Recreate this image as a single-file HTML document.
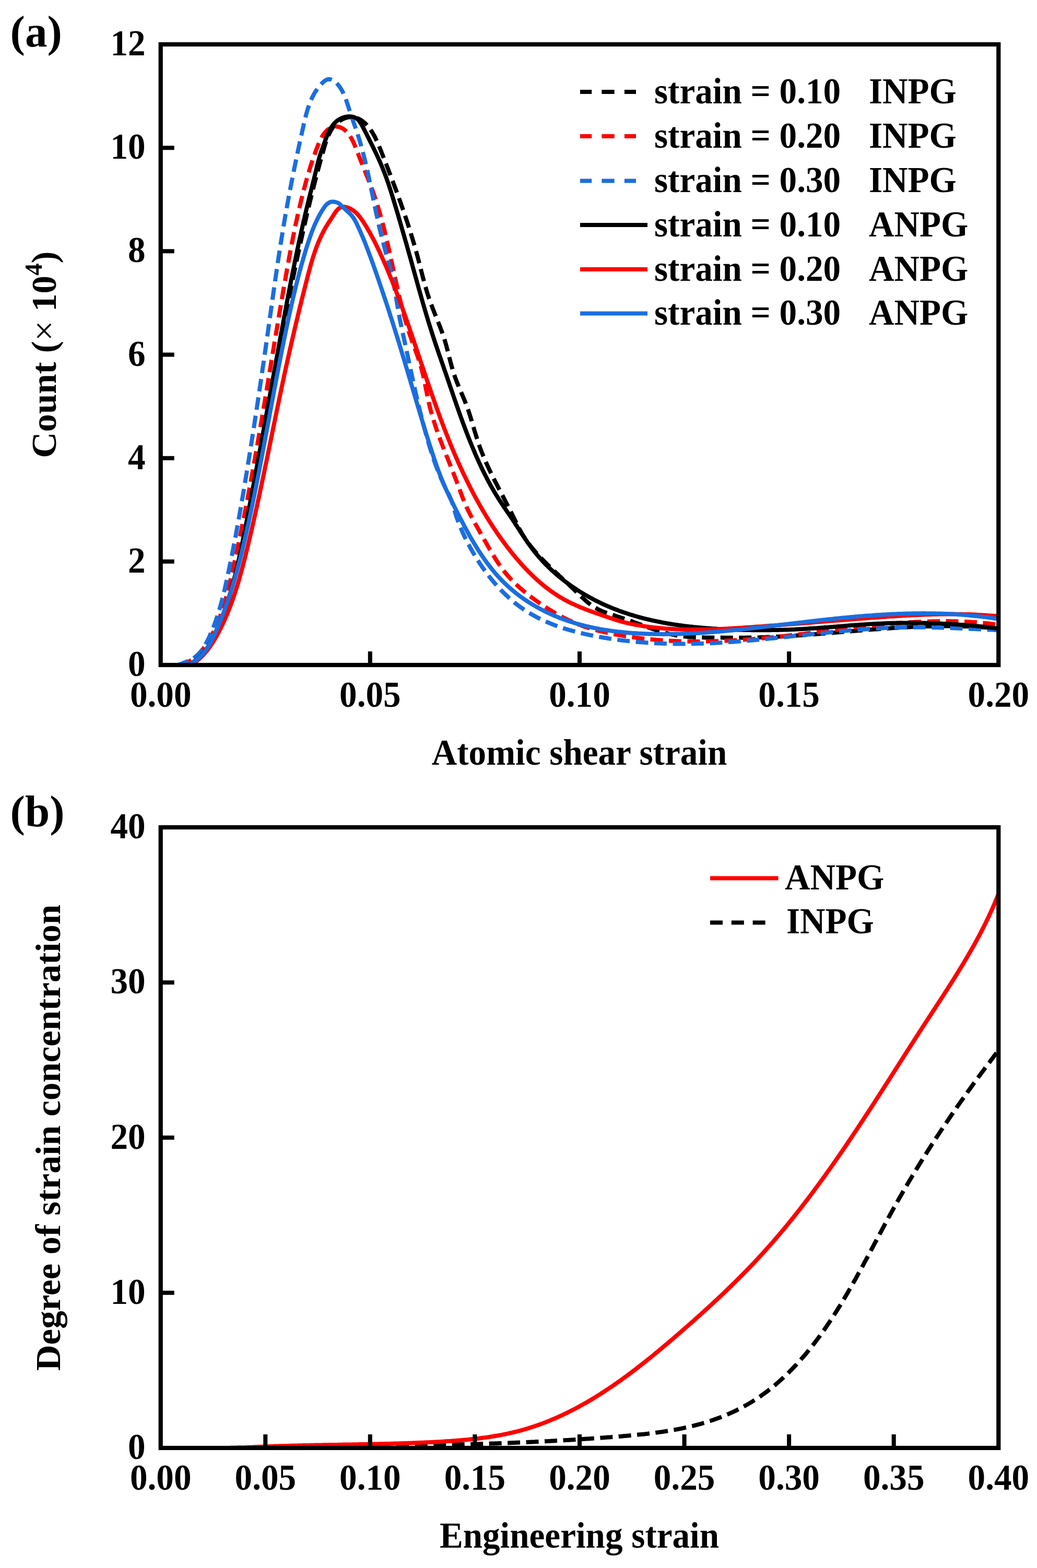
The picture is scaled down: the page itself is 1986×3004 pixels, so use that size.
<!DOCTYPE html>
<html><head><meta charset="utf-8"><title>Figure</title>
<style>html,body{margin:0;padding:0;background:#fff;} svg{display:block;}</style>
</head><body>
<svg width="1986" height="3004" viewBox="0 0 1986 3004"
 font-family="'Liberation Serif', 'Times New Roman', serif" font-weight="bold" fill="#000">
<rect width="1986" height="3004" fill="#fff"/>
<text x="19.6" y="88.6" font-size="85">(a)</text>
<text x="19.6" y="1583" font-size="85">(b)</text>
<clipPath id="c0"><rect x="307.7" y="85" width="1604.6" height="1189"/></clipPath>
<g clip-path="url(#c0)" fill="none" stroke-width="8" stroke-linejoin="round">
<path d="M356.0,1275.2 L359.0,1274.0 L362.0,1272.8 L364.8,1271.4 L367.5,1269.9 L370.2,1268.4 L372.7,1266.8 L375.2,1265.0 L377.5,1263.2 L379.8,1261.4 L382.0,1259.4 L384.2,1257.4 L386.2,1255.3 L388.2,1253.1 L390.1,1250.9 L392.0,1248.6 L393.8,1246.2 L395.5,1243.9 L397.2,1241.4 L398.8,1238.9 L400.4,1236.4 L401.9,1233.8 L403.4,1231.2 L404.9,1228.6 L406.3,1225.9 L407.7,1223.2 L409.0,1220.5 L410.3,1217.8 L411.6,1215.1 L412.9,1212.3 L414.1,1209.6 L415.4,1206.8 L416.6,1204.0 L417.8,1201.3 L418.9,1198.5 L420.1,1195.7 L421.2,1192.9 L422.4,1190.1 L423.5,1187.3 L424.6,1184.5 L425.7,1181.7 L426.7,1178.9 L427.8,1176.1 L428.8,1173.3 L429.8,1170.5 L430.8,1167.7 L431.8,1164.8 L432.8,1162.0 L433.8,1159.2 L434.7,1156.3 L435.7,1153.5 L436.6,1150.6 L437.5,1147.8 L438.4,1144.9 L439.3,1142.1 L440.2,1139.2 L441.0,1136.4 L441.9,1133.5 L442.7,1130.6 L443.6,1127.8 L444.4,1124.9 L445.2,1122.0 L446.0,1119.2 L446.8,1116.3 L447.6,1113.4 L448.3,1110.5 L449.1,1107.6 L449.8,1104.7 L450.6,1101.8 L451.3,1098.9 L452.0,1096.0 L452.8,1093.1 L453.5,1090.2 L454.2,1087.3 L454.9,1084.4 L455.5,1081.5 L456.2,1078.6 L456.9,1075.7 L457.6,1072.8 L458.2,1069.9 L458.9,1066.9 L459.5,1064.0 L460.2,1061.1 L460.8,1058.2 L461.4,1055.2 L462.1,1052.3 L462.7,1049.4 L463.3,1046.5 L463.9,1043.5 L464.5,1040.6 L465.1,1037.7 L465.7,1034.7 L466.3,1031.8 L466.9,1028.9 L467.5,1025.9 L468.1,1023.0 L468.7,1020.0 L469.3,1017.1 L469.8,1014.2 L470.4,1011.2 L471.0,1008.3 L471.6,1005.3 L472.2,1002.4 L472.7,999.5 L473.3,996.5 L473.9,993.6 L474.5,990.6 L475.0,987.7 L475.6,984.8 L476.2,981.8 L476.7,978.9 L477.3,975.9 L477.9,973.0 L478.4,970.0 L479.0,967.1 L479.6,964.1 L480.1,961.2 L480.7,958.2 L481.3,955.3 L481.8,952.3 L482.4,949.4 L482.9,946.4 L483.5,943.5 L484.1,940.5 L484.6,937.6 L485.2,934.7 L485.7,931.7 L486.3,928.8 L486.8,925.8 L487.4,922.9 L488.0,919.9 L488.5,916.9 L489.1,914.0 L489.6,911.0 L490.2,908.1 L490.7,905.1 L491.3,902.2 L491.8,899.2 L492.4,896.3 L492.9,893.3 L493.5,890.4 L494.0,887.4 L494.6,884.5 L495.1,881.5 L495.7,878.6 L496.2,875.6 L496.8,872.7 L497.3,869.7 L497.8,866.8 L498.4,863.8 L498.9,860.8 L499.5,857.9 L500.0,854.9 L500.6,852.0 L501.1,849.0 L501.7,846.1 L502.2,843.1 L502.7,840.2 L503.3,837.2 L503.8,834.3 L504.4,831.3 L504.9,828.3 L505.5,825.4 L506.0,822.4 L506.5,819.5 L507.1,816.5 L507.6,813.6 L508.2,810.6 L508.7,807.7 L509.3,804.7 L509.8,801.7 L510.3,798.8 L510.9,795.8 L511.4,792.9 L512.0,789.9 L512.5,787.0 L513.0,784.0 L513.6,781.1 L514.1,778.1 L514.7,775.2 L515.2,772.2 L515.8,769.2 L516.3,766.3 L516.8,763.3 L517.4,760.4 L517.9,757.4 L518.5,754.5 L519.0,751.5 L519.6,748.6 L520.1,745.6 L520.7,742.7 L521.2,739.7 L521.7,736.8 L522.3,733.8 L522.8,730.8 L523.4,727.9 L523.9,724.9 L524.5,722.0 L525.0,719.0 L525.6,716.1 L526.1,713.1 L526.7,710.2 L527.2,707.2 L527.8,704.3 L528.3,701.3 L528.9,698.4 L529.4,695.4 L530.0,692.5 L530.5,689.5 L531.1,686.6 L531.6,683.6 L532.2,680.7 L532.7,677.7 L533.3,674.8 L533.8,671.8 L534.4,668.9 L535.0,665.9 L535.5,663.0 L536.1,660.0 L536.6,657.1 L537.2,654.2 L537.8,651.2 L538.3,648.3 L538.9,645.3 L539.4,642.4 L540.0,639.4 L540.6,636.5 L541.1,633.5 L541.7,630.6 L542.3,627.7 L542.8,624.7 L543.4,621.8 L544.0,618.8 L544.5,615.9 L545.1,612.9 L545.7,610.0 L546.3,607.1 L546.8,604.1 L547.4,601.2 L548.0,598.3 L548.6,595.3 L549.1,592.4 L549.7,589.4 L550.3,586.5 L550.9,583.6 L551.5,580.6 L552.1,577.7 L552.6,574.8 L553.2,571.8 L553.8,568.9 L554.4,566.0 L555.0,563.0 L555.6,560.1 L556.2,557.2 L556.8,554.2 L557.4,551.3 L558.0,548.4 L558.6,545.4 L559.1,542.5 L559.7,539.6 L560.3,536.7 L561.0,533.7 L561.6,530.8 L562.2,527.9 L562.8,525.0 L563.4,522.0 L564.0,519.1 L564.6,516.2 L565.2,513.3 L565.8,510.3 L566.4,507.4 L567.1,504.5 L567.7,501.6 L568.3,498.7 L568.9,495.7 L569.5,492.8 L570.2,489.9 L570.8,487.0 L571.4,484.1 L572.0,481.2 L572.7,478.3 L573.3,475.3 L573.9,472.4 L574.6,469.5 L575.2,466.6 L575.8,463.7 L576.5,460.8 L577.1,457.9 L577.8,455.0 L578.4,452.1 L579.1,449.2 L579.7,446.2 L580.4,443.3 L581.0,440.4 L581.7,437.5 L582.3,434.6 L583.0,431.7 L583.6,428.8 L584.3,425.9 L585.0,423.0 L585.6,420.1 L586.3,417.2 L587.0,414.3 L587.7,411.4 L588.3,408.5 L589.0,405.6 L589.7,402.7 L590.4,399.8 L591.1,396.9 L591.8,394.0 L592.5,391.1 L593.1,388.2 L593.8,385.3 L594.6,382.4 L595.3,379.5 L596.0,376.6 L596.7,373.7 L597.4,370.8 L598.1,367.9 L598.8,365.0 L599.6,362.1 L600.3,359.2 L601.0,356.2 L601.8,353.3 L602.5,350.4 L603.3,347.5 L604.0,344.6 L604.8,341.7 L605.5,338.7 L606.3,335.8 L607.1,332.9 L607.9,330.0 L608.6,327.0 L609.4,324.1 L610.2,321.2 L611.0,318.2 L611.8,315.3 L612.6,312.3 L613.4,309.4 L614.2,306.5 L615.0,303.5 L615.9,300.6 L616.7,297.6 L617.5,294.6 L618.4,291.7 L619.2,288.7 L620.1,285.7 L620.9,282.8 L621.8,279.8 L622.7,276.9 L623.6,273.9 L624.6,271.0 L625.6,268.1 L626.6,265.3 L627.7,262.5 L628.9,259.7 L630.1,257.0 L631.4,254.4 L632.8,251.8 L634.2,249.2 L635.8,246.8 L637.4,244.4 L639.2,242.1 L641.0,240.0 L643.0,237.9 L645.0,235.9 L647.3,234.0 L649.6,232.2 L652.0,230.6 L654.6,229.1 L657.2,227.8 L659.9,226.7 L662.7,225.8 L665.5,225.1 L668.4,224.6 L671.2,224.4 L674.1,224.5 L677.0,224.8 L679.8,225.3 L682.6,226.0 L685.3,227.0 L688.0,228.2 L690.6,229.6 L693.1,231.2 L695.5,232.9 L697.8,234.9 L700.0,236.9 L702.1,239.1 L704.1,241.4 L706.1,243.7 L707.9,246.2 L709.7,248.6 L711.4,251.1 L713.0,253.7 L714.6,256.3 L716.1,258.9 L717.5,261.5 L718.9,264.2 L720.2,266.9 L721.5,269.7 L722.8,272.4 L724.0,275.2 L725.2,278.0 L726.3,280.8 L727.5,283.6 L728.6,286.4 L729.7,289.2 L730.8,292.1 L731.9,294.9 L733.0,297.7 L734.1,300.5 L735.2,303.3 L736.3,306.2 L737.4,309.0 L738.5,311.8 L739.6,314.6 L740.7,317.4 L741.8,320.2 L742.9,323.0 L743.9,325.8 L745.0,328.6 L746.1,331.4 L747.2,334.2 L748.2,337.0 L749.3,339.8 L750.4,342.7 L751.4,345.5 L752.5,348.3 L753.5,351.1 L754.6,353.9 L755.6,356.7 L756.7,359.5 L757.7,362.3 L758.8,365.1 L759.8,367.9 L760.8,370.7 L761.8,373.5 L762.9,376.3 L763.9,379.1 L764.9,381.9 L765.9,384.7 L766.9,387.5 L767.9,390.3 L768.9,393.2 L769.9,396.0 L770.9,398.8 L771.8,401.6 L772.8,404.4 L773.8,407.2 L774.7,410.1 L775.7,412.9 L776.6,415.7 L777.6,418.5 L778.5,421.4 L779.5,424.2 L780.4,427.0 L781.3,429.9 L782.3,432.7 L783.2,435.5 L784.1,438.4 L785.0,441.2 L785.9,444.1 L786.8,446.9 L787.6,449.8 L788.5,452.6 L789.4,455.5 L790.3,458.3 L791.1,461.2 L792.0,464.1 L792.8,466.9 L793.6,469.8 L794.5,472.7 L795.3,475.6 L796.1,478.5 L796.9,481.3 L797.7,484.2 L798.5,487.1 L799.3,490.0 L800.1,492.9 L800.8,495.8 L801.6,498.8 L802.4,501.7 L803.1,504.6 L803.9,507.5 L804.6,510.4 L805.4,513.4 L806.1,516.3 L806.8,519.2 L807.6,522.2 L808.3,525.1 L809.1,528.0 L809.8,530.9 L810.6,533.9 L811.4,536.8 L812.1,539.7 L812.9,542.6 L813.7,545.5 L814.5,548.4 L815.4,551.3 L816.2,554.2 L817.1,557.1 L817.9,560.0 L818.8,562.9 L819.7,565.7 L820.7,568.6 L821.6,571.4 L822.6,574.3 L823.6,577.1 L824.6,579.9 L825.6,582.7 L826.7,585.5 L827.7,588.3 L828.8,591.1 L829.9,593.9 L831.0,596.7 L832.1,599.5 L833.2,602.3 L834.4,605.1 L835.5,607.8 L836.6,610.6 L837.7,613.4 L838.8,616.2 L839.9,618.9 L841.0,621.7 L842.1,624.5 L843.2,627.3 L844.2,630.1 L845.3,632.9 L846.3,635.7 L847.3,638.5 L848.3,641.3 L849.2,644.2 L850.2,647.0 L851.1,649.9 L852.0,652.7 L852.8,655.6 L853.7,658.5 L854.5,661.3 L855.3,664.2 L856.0,667.1 L856.8,670.0 L857.5,672.9 L858.3,675.9 L859.0,678.8 L859.8,681.7 L860.5,684.6 L861.2,687.5 L862.0,690.4 L862.7,693.3 L863.5,696.2 L864.3,699.1 L865.1,702.0 L865.9,704.9 L866.7,707.8 L867.6,710.7 L868.5,713.5 L869.4,716.4 L870.3,719.2 L871.3,722.0 L872.3,724.8 L873.4,727.7 L874.4,730.4 L875.5,733.2 L876.7,736.0 L877.8,738.8 L878.9,741.6 L880.1,744.3 L881.3,747.1 L882.4,749.8 L883.6,752.6 L884.8,755.4 L886.0,758.1 L887.1,760.9 L888.3,763.6 L889.4,766.4 L890.6,769.2 L891.7,772.0 L892.7,774.8 L893.8,777.6 L894.8,780.4 L895.8,783.2 L896.8,786.0 L897.8,788.9 L898.7,791.7 L899.6,794.6 L900.5,797.4 L901.4,800.3 L902.3,803.2 L903.2,806.0 L904.0,808.9 L904.9,811.8 L905.7,814.7 L906.6,817.5 L907.4,820.4 L908.3,823.3 L909.1,826.2 L910.0,829.0 L910.9,831.9 L911.7,834.8 L912.6,837.6 L913.5,840.5 L914.4,843.3 L915.4,846.2 L916.3,849.0 L917.3,851.8 L918.3,854.7 L919.3,857.5 L920.3,860.3 L921.4,863.1 L922.4,865.9 L923.5,868.6 L924.7,871.4 L925.8,874.2 L926.9,876.9 L928.1,879.7 L929.3,882.4 L930.5,885.2 L931.7,887.9 L933.0,890.6 L934.2,893.4 L935.5,896.1 L936.7,898.8 L938.0,901.5 L939.3,904.2 L940.6,906.9 L941.9,909.6 L943.3,912.3 L944.6,915.0 L945.9,917.7 L947.3,920.4 L948.6,923.0 L950.0,925.7 L951.4,928.4 L952.8,931.1 L954.1,933.7 L955.5,936.4 L956.9,939.1 L958.3,941.7 L959.7,944.4 L961.1,947.1 L962.5,949.7 L963.9,952.4 L965.3,955.1 L966.7,957.8 L968.0,960.4 L969.4,963.1 L970.8,965.8 L972.2,968.4 L973.6,971.1 L974.9,973.8 L976.3,976.5 L977.7,979.1 L979.0,981.8 L980.4,984.5 L981.7,987.2 L983.0,989.9 L984.3,992.6 L985.7,995.3 L987.0,998.0 L988.3,1000.7 L989.6,1003.4 L990.9,1006.0 L992.3,1008.7 L993.6,1011.4 L995.0,1014.0 L996.5,1016.6 L997.9,1019.2 L999.4,1021.8 L1000.9,1024.4 L1002.5,1026.9 L1004.1,1029.5 L1005.8,1031.9 L1007.4,1034.4 L1009.2,1036.9 L1010.9,1039.3 L1012.7,1041.7 L1014.5,1044.1 L1016.3,1046.4 L1018.2,1048.8 L1020.1,1051.1 L1022.0,1053.4 L1024.0,1055.7 L1026.0,1058.0 L1028.0,1060.2 L1030.0,1062.5 L1032.0,1064.7 L1034.1,1066.9 L1036.1,1069.1 L1038.2,1071.3 L1040.3,1073.4 L1042.4,1075.6 L1044.5,1077.7 L1046.7,1079.9 L1048.8,1082.0 L1051.0,1084.1 L1053.1,1086.1 L1055.3,1088.2 L1057.4,1090.3 L1059.6,1092.4 L1061.8,1094.4 L1064.0,1096.5 L1066.2,1098.5 L1068.4,1100.5 L1070.6,1102.6 L1072.8,1104.6 L1074.9,1106.6 L1077.1,1108.7 L1079.3,1110.7 L1081.5,1112.7 L1083.7,1114.8 L1085.9,1116.8 L1088.1,1118.9 L1090.3,1120.9 L1092.5,1123.0 L1094.7,1125.0 L1096.8,1127.1 L1099.0,1129.2 L1101.2,1131.3 L1103.3,1133.4 L1105.5,1135.5 L1107.6,1137.6 L1109.8,1139.7 L1112.0,1141.8 L1114.1,1143.9 L1116.3,1145.9 L1118.5,1147.9 L1120.8,1149.9 L1123.0,1151.9 L1125.3,1153.8 L1127.6,1155.6 L1129.9,1157.5 L1132.3,1159.2 L1134.7,1160.9 L1137.2,1162.5 L1139.7,1164.1 L1142.3,1165.5 L1144.9,1166.9 L1147.5,1168.3 L1150.2,1169.5 L1152.9,1170.8 L1155.6,1171.9 L1158.4,1173.0 L1161.2,1174.1 L1164.0,1175.1 L1166.9,1176.1 L1169.8,1177.1 L1172.6,1178.0 L1175.5,1178.9 L1178.4,1179.9 L1181.3,1180.8 L1184.2,1181.7 L1187.1,1182.6 L1190.0,1183.5 L1192.9,1184.4 L1195.7,1185.4 L1198.6,1186.3 L1201.4,1187.3 L1204.3,1188.3 L1207.1,1189.3 L1209.9,1190.3 L1212.7,1191.4 L1215.5,1192.4 L1218.3,1193.4 L1221.1,1194.5 L1223.9,1195.5 L1226.8,1196.6 L1229.6,1197.6 L1232.4,1198.6 L1235.2,1199.7 L1238.0,1200.7 L1240.8,1201.7 L1243.7,1202.7 L1246.5,1203.7 L1249.3,1204.7 L1252.2,1205.7 L1255.0,1206.6 L1257.9,1207.6 L1260.7,1208.5 L1263.6,1209.4 L1266.5,1210.2 L1269.3,1211.1 L1272.2,1211.9 L1275.1,1212.7 L1278.0,1213.4 L1280.9,1214.2 L1283.8,1214.9 L1286.7,1215.5 L1289.6,1216.1 L1292.6,1216.7 L1295.5,1217.2 L1298.4,1217.7 L1301.4,1218.2 L1304.3,1218.6 L1307.3,1219.0 L1310.3,1219.3 L1313.2,1219.6 L1316.2,1219.9 L1319.2,1220.2 L1322.2,1220.4 L1325.2,1220.6 L1328.2,1220.7 L1331.2,1220.9 L1334.2,1221.0 L1337.2,1221.1 L1340.2,1221.2 L1343.2,1221.3 L1346.2,1221.3 L1349.2,1221.4 L1352.2,1221.4 L1355.2,1221.5 L1358.2,1221.5 L1361.2,1221.5 L1364.3,1221.5 L1367.3,1221.5 L1370.3,1221.6 L1373.3,1221.6 L1376.3,1221.6 L1379.3,1221.6 L1382.3,1221.6 L1385.3,1221.7 L1388.3,1221.7 L1391.3,1221.7 L1394.3,1221.7 L1397.3,1221.7 L1400.3,1221.7 L1403.3,1221.8 L1406.3,1221.8 L1409.3,1221.8 L1412.3,1221.8 L1415.3,1221.7 L1418.3,1221.7 L1421.3,1221.7 L1424.3,1221.7 L1427.3,1221.7 L1430.3,1221.6 L1433.2,1221.6 L1436.2,1221.6 L1439.2,1221.5 L1442.2,1221.5 L1445.2,1221.4 L1448.2,1221.3 L1451.2,1221.2 L1454.2,1221.2 L1457.2,1221.1 L1460.2,1221.0 L1463.2,1220.9 L1466.2,1220.8 L1469.2,1220.6 L1472.2,1220.5 L1475.1,1220.4 L1478.1,1220.3 L1481.1,1220.1 L1484.1,1220.0 L1487.1,1219.8 L1490.1,1219.7 L1493.1,1219.5 L1496.1,1219.4 L1499.1,1219.2 L1502.1,1219.0 L1505.1,1218.9 L1508.1,1218.7 L1511.0,1218.5 L1514.0,1218.3 L1517.0,1218.1 L1520.0,1217.9 L1523.0,1217.8 L1526.0,1217.6 L1529.0,1217.3 L1532.0,1217.1 L1535.0,1216.9 L1538.0,1216.7 L1541.0,1216.5 L1544.0,1216.3 L1546.9,1216.1 L1549.9,1215.8 L1552.9,1215.6 L1555.9,1215.4 L1558.9,1215.2 L1561.9,1214.9 L1564.9,1214.7 L1567.9,1214.4 L1570.9,1214.2 L1573.9,1214.0 L1576.9,1213.7 L1579.8,1213.5 L1582.8,1213.2 L1585.8,1213.0 L1588.8,1212.7 L1591.8,1212.5 L1594.8,1212.2 L1597.8,1212.0 L1600.8,1211.7 L1603.8,1211.5 L1606.8,1211.2 L1609.7,1211.0 L1612.7,1210.7 L1615.7,1210.5 L1618.7,1210.2 L1621.7,1210.0 L1624.7,1209.7 L1627.7,1209.5 L1630.7,1209.2 L1633.7,1209.0 L1636.7,1208.7 L1639.7,1208.5 L1642.6,1208.2 L1645.6,1208.0 L1648.6,1207.7 L1651.6,1207.5 L1654.6,1207.3 L1657.6,1207.0 L1660.6,1206.8 L1663.6,1206.5 L1666.6,1206.3 L1669.6,1206.1 L1672.5,1205.8 L1675.5,1205.6 L1678.5,1205.4 L1681.5,1205.2 L1684.5,1204.9 L1687.5,1204.7 L1690.5,1204.5 L1693.5,1204.3 L1696.5,1204.1 L1699.5,1203.9 L1702.5,1203.7 L1705.4,1203.5 L1708.4,1203.3 L1711.4,1203.1 L1714.4,1202.9 L1717.4,1202.7 L1720.4,1202.5 L1723.4,1202.3 L1726.4,1202.2 L1729.4,1202.0 L1732.4,1201.8 L1735.4,1201.7 L1738.4,1201.5 L1741.3,1201.4 L1744.3,1201.2 L1747.3,1201.1 L1750.3,1200.9 L1753.3,1200.8 L1756.3,1200.7 L1759.3,1200.5 L1762.3,1200.4 L1765.3,1200.3 L1768.3,1200.2 L1771.3,1200.1 L1774.3,1200.0 L1777.2,1199.9 L1780.2,1199.9 L1783.2,1199.8 L1786.2,1199.7 L1789.2,1199.7 L1792.2,1199.6 L1795.2,1199.6 L1798.2,1199.5 L1801.2,1199.5 L1804.2,1199.5 L1807.2,1199.5 L1810.2,1199.4 L1813.2,1199.4 L1816.2,1199.4 L1819.2,1199.5 L1822.1,1199.5 L1825.1,1199.5 L1828.1,1199.5 L1831.1,1199.6 L1834.1,1199.6 L1837.1,1199.7 L1840.1,1199.8 L1843.1,1199.9 L1846.1,1199.9 L1849.1,1200.0 L1852.1,1200.1 L1855.1,1200.3 L1858.1,1200.4 L1861.1,1200.5 L1864.1,1200.7 L1867.1,1200.8 L1870.1,1201.0 L1873.1,1201.1 L1876.1,1201.3 L1879.0,1201.5 L1882.0,1201.7 L1885.0,1201.9 L1888.0,1202.1 L1891.0,1202.4 L1894.0,1202.6 L1897.0,1202.9 L1900.0,1203.1 L1903.0,1203.4 L1906.0,1203.7 L1909.0,1204.0 L1912.0,1204.3" stroke="#000000" stroke-dasharray="24 11.5"/>
<path d="M344.7,1274.8 L347.7,1273.8 L350.7,1272.8 L353.6,1271.6 L356.4,1270.4 L359.1,1269.0 L361.7,1267.6 L364.3,1266.0 L366.8,1264.4 L369.2,1262.7 L371.6,1260.9 L373.9,1259.0 L376.1,1257.1 L378.3,1255.0 L380.4,1253.0 L382.4,1250.8 L384.4,1248.6 L386.4,1246.3 L388.3,1244.0 L390.1,1241.6 L391.9,1239.2 L393.6,1236.8 L395.3,1234.3 L396.9,1231.8 L398.5,1229.2 L400.1,1226.6 L401.6,1224.0 L403.1,1221.4 L404.5,1218.8 L405.9,1216.1 L407.3,1213.5 L408.7,1210.8 L410.0,1208.1 L411.3,1205.4 L412.5,1202.7 L413.8,1200.0 L415.0,1197.3 L416.1,1194.5 L417.3,1191.8 L418.4,1189.0 L419.5,1186.2 L420.5,1183.4 L421.6,1180.6 L422.6,1177.8 L423.6,1175.0 L424.6,1172.2 L425.5,1169.4 L426.5,1166.5 L427.4,1163.7 L428.3,1160.8 L429.1,1158.0 L430.0,1155.1 L430.8,1152.3 L431.7,1149.4 L432.5,1146.5 L433.3,1143.6 L434.1,1140.7 L434.8,1137.8 L435.6,1134.9 L436.3,1132.0 L437.1,1129.1 L437.8,1126.2 L438.5,1123.3 L439.2,1120.4 L439.9,1117.4 L440.6,1114.5 L441.3,1111.6 L442.0,1108.7 L442.7,1105.7 L443.3,1102.8 L444.0,1099.9 L444.7,1096.9 L445.3,1094.0 L446.0,1091.1 L446.7,1088.1 L447.3,1085.2 L448.0,1082.3 L448.6,1079.3 L449.3,1076.4 L449.9,1073.5 L450.6,1070.5 L451.2,1067.6 L451.8,1064.7 L452.5,1061.7 L453.1,1058.8 L453.7,1055.9 L454.4,1052.9 L455.0,1050.0 L455.6,1047.1 L456.2,1044.1 L456.9,1041.2 L457.5,1038.3 L458.1,1035.3 L458.7,1032.4 L459.3,1029.4 L459.9,1026.5 L460.5,1023.6 L461.1,1020.6 L461.7,1017.7 L462.3,1014.7 L462.9,1011.8 L463.5,1008.9 L464.1,1005.9 L464.7,1003.0 L465.3,1000.0 L465.9,997.1 L466.5,994.2 L467.1,991.2 L467.7,988.3 L468.2,985.3 L468.8,982.4 L469.4,979.4 L470.0,976.5 L470.5,973.5 L471.1,970.6 L471.7,967.7 L472.3,964.7 L472.8,961.8 L473.4,958.8 L474.0,955.9 L474.5,952.9 L475.1,950.0 L475.6,947.0 L476.2,944.1 L476.7,941.1 L477.3,938.2 L477.8,935.2 L478.4,932.3 L478.9,929.4 L479.5,926.4 L480.0,923.5 L480.6,920.5 L481.1,917.6 L481.7,914.6 L482.2,911.7 L482.7,908.7 L483.3,905.8 L483.8,902.8 L484.4,899.9 L484.9,896.9 L485.4,894.0 L486.0,891.0 L486.5,888.1 L487.0,885.1 L487.5,882.2 L488.1,879.2 L488.6,876.3 L489.1,873.3 L489.6,870.3 L490.2,867.4 L490.7,864.4 L491.2,861.5 L491.7,858.5 L492.2,855.6 L492.7,852.6 L493.3,849.7 L493.8,846.7 L494.3,843.8 L494.8,840.8 L495.3,837.9 L495.8,834.9 L496.3,832.0 L496.8,829.0 L497.3,826.0 L497.9,823.1 L498.4,820.1 L498.9,817.2 L499.4,814.2 L499.9,811.3 L500.4,808.3 L500.9,805.4 L501.4,802.4 L501.9,799.4 L502.4,796.5 L502.9,793.5 L503.4,790.6 L503.9,787.6 L504.4,784.7 L504.9,781.7 L505.4,778.8 L505.9,775.8 L506.4,772.8 L506.9,769.9 L507.4,766.9 L507.9,764.0 L508.3,761.0 L508.8,758.1 L509.3,755.1 L509.8,752.1 L510.3,749.2 L510.8,746.2 L511.3,743.3 L511.8,740.3 L512.3,737.3 L512.8,734.4 L513.3,731.4 L513.8,728.5 L514.2,725.5 L514.7,722.6 L515.2,719.6 L515.7,716.6 L516.2,713.7 L516.7,710.7 L517.2,707.8 L517.7,704.8 L518.2,701.9 L518.7,698.9 L519.1,695.9 L519.6,693.0 L520.1,690.0 L520.6,687.1 L521.1,684.1 L521.6,681.1 L522.1,678.2 L522.6,675.2 L523.1,672.3 L523.6,669.3 L524.1,666.3 L524.5,663.4 L525.0,660.4 L525.5,657.5 L526.0,654.5 L526.5,651.6 L527.0,648.6 L527.5,645.6 L528.0,642.7 L528.5,639.7 L529.0,636.8 L529.5,633.8 L530.0,630.8 L530.5,627.9 L531.0,624.9 L531.5,622.0 L531.9,619.0 L532.4,616.1 L532.9,613.1 L533.4,610.1 L533.9,607.2 L534.4,604.2 L534.9,601.3 L535.4,598.3 L535.9,595.3 L536.4,592.4 L536.9,589.4 L537.5,586.5 L538.0,583.5 L538.5,580.6 L539.0,577.6 L539.5,574.6 L540.0,571.7 L540.5,568.7 L541.0,565.8 L541.5,562.8 L542.0,559.9 L542.5,556.9 L543.0,553.9 L543.6,551.0 L544.1,548.0 L544.6,545.1 L545.1,542.1 L545.6,539.2 L546.1,536.2 L546.7,533.2 L547.2,530.3 L547.7,527.3 L548.2,524.4 L548.8,521.4 L549.3,518.5 L549.8,515.5 L550.3,512.6 L550.9,509.6 L551.4,506.7 L551.9,503.7 L552.5,500.7 L553.0,497.8 L553.5,494.8 L554.1,491.9 L554.6,488.9 L555.2,486.0 L555.7,483.0 L556.3,480.1 L556.8,477.1 L557.4,474.2 L558.0,471.2 L558.5,468.3 L559.1,465.3 L559.7,462.4 L560.3,459.5 L560.8,456.5 L561.4,453.6 L562.0,450.6 L562.6,447.7 L563.2,444.8 L563.8,441.8 L564.4,438.9 L565.0,435.9 L565.6,433.0 L566.2,430.1 L566.9,427.1 L567.5,424.2 L568.1,421.3 L568.8,418.4 L569.4,415.4 L570.1,412.5 L570.7,409.6 L571.4,406.7 L572.0,403.7 L572.7,400.8 L573.4,397.9 L574.1,395.0 L574.8,392.1 L575.5,389.2 L576.2,386.3 L576.9,383.3 L577.6,380.4 L578.3,377.5 L579.0,374.6 L579.8,371.7 L580.5,368.8 L581.3,365.9 L582.0,363.0 L582.8,360.1 L583.6,357.3 L584.3,354.4 L585.1,351.5 L585.9,348.6 L586.7,345.7 L587.5,342.8 L588.3,340.0 L589.2,337.1 L590.0,334.2 L590.8,331.3 L591.7,328.5 L592.6,325.6 L593.4,322.7 L594.3,319.9 L595.2,317.0 L596.1,314.2 L597.1,311.3 L598.0,308.5 L599.0,305.6 L599.9,302.8 L600.9,299.9 L601.9,297.1 L602.9,294.3 L604.0,291.4 L605.0,288.6 L606.1,285.8 L607.2,283.0 L608.3,280.1 L609.4,277.3 L610.6,274.5 L611.8,271.7 L613.0,269.0 L614.3,266.2 L615.7,263.6 L617.2,261.0 L618.9,258.4 L620.6,256.0 L622.5,253.6 L624.5,251.3 L626.7,249.2 L629.1,247.4 L631.5,245.7 L634.2,244.4 L636.9,243.4 L639.8,242.7 L642.7,242.4 L645.6,242.5 L648.4,243.0 L651.3,243.9 L654.0,245.1 L656.7,246.5 L659.2,248.2 L661.6,250.1 L663.8,252.2 L665.9,254.5 L667.8,256.9 L669.6,259.4 L671.2,262.0 L672.8,264.7 L674.3,267.4 L675.6,270.2 L677.0,272.9 L678.2,275.7 L679.4,278.5 L680.6,281.3 L681.8,284.0 L682.9,286.8 L683.9,289.6 L685.0,292.4 L686.1,295.1 L687.1,297.9 L688.2,300.7 L689.2,303.5 L690.3,306.2 L691.4,309.0 L692.5,311.8 L693.6,314.6 L694.7,317.4 L695.8,320.1 L696.9,322.9 L698.0,325.7 L699.2,328.5 L700.3,331.3 L701.4,334.0 L702.5,336.8 L703.6,339.6 L704.8,342.4 L705.9,345.2 L707.0,348.0 L708.1,350.8 L709.1,353.6 L710.2,356.4 L711.3,359.2 L712.3,362.0 L713.4,364.9 L714.4,367.7 L715.4,370.5 L716.4,373.4 L717.4,376.2 L718.3,379.0 L719.3,381.9 L720.2,384.7 L721.1,387.6 L722.0,390.4 L722.9,393.3 L723.8,396.1 L724.7,399.0 L725.5,401.9 L726.4,404.7 L727.2,407.6 L728.1,410.5 L728.9,413.4 L729.7,416.2 L730.5,419.1 L731.3,422.0 L732.0,424.9 L732.8,427.8 L733.6,430.7 L734.3,433.6 L735.0,436.5 L735.8,439.4 L736.5,442.3 L737.2,445.2 L737.9,448.1 L738.6,451.0 L739.3,454.0 L740.0,456.9 L740.7,459.8 L741.4,462.7 L742.1,465.6 L742.8,468.5 L743.4,471.5 L744.1,474.4 L744.7,477.3 L745.4,480.2 L746.0,483.2 L746.7,486.1 L747.3,489.0 L748.0,492.0 L748.6,494.9 L749.3,497.8 L749.9,500.8 L750.5,503.7 L751.2,506.6 L751.8,509.6 L752.4,512.5 L753.1,515.4 L753.7,518.4 L754.3,521.3 L755.0,524.3 L755.6,527.2 L756.2,530.1 L756.9,533.1 L757.5,536.0 L758.1,538.9 L758.8,541.9 L759.4,544.8 L760.1,547.7 L760.7,550.7 L761.4,553.6 L762.1,556.5 L762.7,559.5 L763.4,562.4 L764.1,565.3 L764.7,568.2 L765.4,571.2 L766.1,574.1 L766.8,577.0 L767.5,579.9 L768.3,582.8 L769.0,585.8 L769.7,588.7 L770.5,591.6 L771.2,594.5 L772.0,597.4 L772.7,600.3 L773.5,603.2 L774.3,606.1 L775.1,609.0 L775.9,611.8 L776.7,614.7 L777.5,617.6 L778.4,620.5 L779.2,623.3 L780.1,626.2 L781.0,629.1 L781.9,631.9 L782.8,634.8 L783.7,637.6 L784.6,640.5 L785.6,643.3 L786.6,646.1 L787.5,649.0 L788.5,651.8 L789.5,654.6 L790.6,657.4 L791.6,660.2 L792.6,663.0 L793.7,665.8 L794.7,668.6 L795.7,671.4 L796.8,674.3 L797.8,677.1 L798.8,679.9 L799.8,682.7 L800.8,685.5 L801.7,688.4 L802.7,691.2 L803.6,694.0 L804.5,696.9 L805.3,699.8 L806.2,702.6 L807.0,705.5 L807.7,708.4 L808.5,711.3 L809.2,714.2 L809.9,717.1 L810.6,720.1 L811.2,723.0 L811.9,725.9 L812.5,728.9 L813.1,731.8 L813.7,734.8 L814.3,737.7 L814.9,740.7 L815.5,743.6 L816.1,746.6 L816.7,749.5 L817.3,752.5 L817.9,755.4 L818.5,758.4 L819.1,761.3 L819.7,764.3 L820.3,767.2 L821.0,770.1 L821.6,773.1 L822.3,776.0 L823.0,778.9 L823.8,781.8 L824.5,784.7 L825.3,787.6 L826.1,790.5 L826.9,793.4 L827.7,796.3 L828.5,799.1 L829.4,802.0 L830.3,804.9 L831.2,807.7 L832.1,810.6 L833.0,813.4 L833.9,816.3 L834.9,819.1 L835.8,821.9 L836.8,824.8 L837.8,827.6 L838.8,830.4 L839.8,833.2 L840.8,836.0 L841.9,838.9 L842.9,841.7 L844.0,844.5 L845.0,847.3 L846.1,850.1 L847.2,852.9 L848.2,855.7 L849.3,858.5 L850.4,861.3 L851.5,864.1 L852.6,866.8 L853.7,869.6 L854.8,872.4 L855.9,875.2 L857.1,878.0 L858.2,880.8 L859.3,883.6 L860.4,886.4 L861.5,889.1 L862.6,891.9 L863.7,894.7 L864.8,897.5 L866.0,900.3 L867.1,903.1 L868.2,905.9 L869.3,908.7 L870.3,911.5 L871.4,914.3 L872.5,917.1 L873.6,919.9 L874.7,922.7 L875.7,925.5 L876.8,928.3 L877.8,931.1 L878.8,933.9 L879.9,936.7 L880.9,939.6 L881.9,942.4 L883.0,945.2 L884.0,948.0 L885.0,950.8 L886.1,953.6 L887.2,956.4 L888.3,959.2 L889.4,961.9 L890.6,964.7 L891.7,967.4 L893.0,970.1 L894.2,972.8 L895.5,975.5 L896.8,978.2 L898.1,980.9 L899.4,983.5 L900.8,986.2 L902.2,988.8 L903.6,991.5 L905.0,994.1 L906.4,996.7 L907.9,999.3 L909.4,1001.9 L910.8,1004.5 L912.3,1007.1 L913.8,1009.7 L915.3,1012.3 L916.8,1014.9 L918.2,1017.5 L919.7,1020.2 L921.2,1022.8 L922.7,1025.4 L924.2,1028.0 L925.7,1030.6 L927.1,1033.3 L928.6,1035.9 L930.1,1038.5 L931.6,1041.2 L933.0,1043.8 L934.5,1046.4 L936.0,1049.0 L937.5,1051.7 L939.0,1054.3 L940.6,1056.9 L942.1,1059.5 L943.6,1062.0 L945.2,1064.6 L946.8,1067.2 L948.3,1069.7 L950.0,1072.3 L951.6,1074.8 L953.2,1077.3 L954.9,1079.8 L956.6,1082.2 L958.3,1084.7 L960.0,1087.1 L961.8,1089.5 L963.6,1091.9 L965.4,1094.3 L967.2,1096.6 L969.1,1098.9 L971.0,1101.2 L973.0,1103.4 L975.0,1105.7 L977.0,1107.9 L979.0,1110.1 L981.1,1112.2 L983.1,1114.4 L985.3,1116.5 L987.4,1118.5 L989.6,1120.6 L991.8,1122.6 L994.0,1124.7 L996.2,1126.7 L998.5,1128.6 L1000.8,1130.6 L1003.1,1132.5 L1005.4,1134.4 L1007.7,1136.3 L1010.1,1138.2 L1012.4,1140.1 L1014.8,1141.9 L1017.2,1143.7 L1019.6,1145.5 L1022.1,1147.3 L1024.5,1149.1 L1026.9,1150.9 L1029.4,1152.6 L1031.9,1154.3 L1034.3,1156.1 L1036.8,1157.8 L1039.3,1159.4 L1041.8,1161.1 L1044.3,1162.8 L1046.9,1164.4 L1049.4,1166.0 L1051.9,1167.6 L1054.5,1169.2 L1057.1,1170.8 L1059.6,1172.3 L1062.2,1173.9 L1064.8,1175.4 L1067.4,1176.8 L1070.0,1178.3 L1072.7,1179.7 L1075.3,1181.2 L1078.0,1182.6 L1080.6,1183.9 L1083.3,1185.3 L1086.0,1186.6 L1088.7,1187.9 L1091.4,1189.2 L1094.1,1190.4 L1096.8,1191.6 L1099.5,1192.8 L1102.3,1194.0 L1105.1,1195.1 L1107.8,1196.3 L1110.6,1197.3 L1113.4,1198.4 L1116.2,1199.4 L1119.1,1200.4 L1121.9,1201.4 L1124.8,1202.3 L1127.6,1203.2 L1130.5,1204.1 L1133.4,1204.9 L1136.3,1205.8 L1139.2,1206.6 L1142.1,1207.3 L1145.0,1208.1 L1147.9,1208.8 L1150.8,1209.5 L1153.8,1210.2 L1156.7,1210.9 L1159.7,1211.6 L1162.6,1212.2 L1165.6,1212.8 L1168.5,1213.4 L1171.5,1214.0 L1174.4,1214.6 L1177.4,1215.2 L1180.3,1215.7 L1183.3,1216.3 L1186.2,1216.8 L1189.2,1217.3 L1192.2,1217.8 L1195.1,1218.3 L1198.1,1218.8 L1201.1,1219.3 L1204.0,1219.7 L1207.0,1220.2 L1210.0,1220.6 L1212.9,1221.0 L1215.9,1221.4 L1218.9,1221.8 L1221.8,1222.2 L1224.8,1222.6 L1227.8,1222.9 L1230.8,1223.3 L1233.7,1223.6 L1236.7,1223.9 L1239.7,1224.2 L1242.7,1224.5 L1245.6,1224.8 L1248.6,1225.1 L1251.6,1225.4 L1254.6,1225.6 L1257.5,1225.9 L1260.5,1226.1 L1263.5,1226.3 L1266.5,1226.6 L1269.5,1226.8 L1272.5,1227.0 L1275.4,1227.2 L1278.4,1227.3 L1281.4,1227.5 L1284.4,1227.7 L1287.4,1227.8 L1290.4,1227.9 L1293.4,1228.1 L1296.3,1228.2 L1299.3,1228.3 L1302.3,1228.4 L1305.3,1228.5 L1308.3,1228.6 L1311.3,1228.6 L1314.3,1228.7 L1317.3,1228.8 L1320.3,1228.8 L1323.2,1228.8 L1326.2,1228.9 L1329.2,1228.9 L1332.2,1228.9 L1335.2,1228.9 L1338.2,1228.9 L1341.2,1228.9 L1344.2,1228.9 L1347.2,1228.8 L1350.2,1228.8 L1353.2,1228.7 L1356.2,1228.7 L1359.2,1228.6 L1362.2,1228.6 L1365.2,1228.5 L1368.2,1228.4 L1371.2,1228.3 L1374.1,1228.2 L1377.1,1228.1 L1380.1,1228.0 L1383.1,1227.9 L1386.1,1227.8 L1389.1,1227.6 L1392.1,1227.5 L1395.1,1227.3 L1398.1,1227.2 L1401.1,1227.0 L1404.1,1226.9 L1407.1,1226.7 L1410.1,1226.5 L1413.1,1226.3 L1416.1,1226.1 L1419.1,1225.9 L1422.1,1225.7 L1425.1,1225.5 L1428.1,1225.3 L1431.1,1225.1 L1434.1,1224.9 L1437.1,1224.7 L1440.1,1224.4 L1443.1,1224.2 L1446.1,1223.9 L1449.1,1223.7 L1452.1,1223.4 L1455.0,1223.2 L1458.0,1222.9 L1461.0,1222.7 L1464.0,1222.4 L1467.0,1222.1 L1470.0,1221.8 L1473.0,1221.5 L1476.0,1221.2 L1479.0,1221.0 L1482.0,1220.7 L1485.0,1220.4 L1488.0,1220.1 L1491.0,1219.7 L1494.0,1219.4 L1496.9,1219.1 L1499.9,1218.8 L1502.9,1218.5 L1505.9,1218.1 L1508.9,1217.8 L1511.9,1217.5 L1514.9,1217.1 L1517.9,1216.8 L1520.9,1216.5 L1523.8,1216.1 L1526.8,1215.8 L1529.8,1215.4 L1532.8,1215.1 L1535.8,1214.7 L1538.8,1214.4 L1541.7,1214.0 L1544.7,1213.6 L1547.7,1213.3 L1550.7,1212.9 L1553.7,1212.6 L1556.7,1212.2 L1559.6,1211.8 L1562.6,1211.5 L1565.6,1211.1 L1568.6,1210.7 L1571.6,1210.3 L1574.5,1210.0 L1577.5,1209.6 L1580.5,1209.2 L1583.5,1208.9 L1586.4,1208.5 L1589.4,1208.1 L1592.4,1207.7 L1595.4,1207.4 L1598.4,1207.0 L1601.3,1206.6 L1604.3,1206.3 L1607.3,1205.9 L1610.3,1205.5 L1613.2,1205.1 L1616.2,1204.8 L1619.2,1204.4 L1622.2,1204.1 L1625.1,1203.7 L1628.1,1203.3 L1631.1,1203.0 L1634.1,1202.6 L1637.0,1202.3 L1640.0,1201.9 L1643.0,1201.6 L1646.0,1201.2 L1648.9,1200.9 L1651.9,1200.5 L1654.9,1200.2 L1657.9,1199.9 L1660.8,1199.5 L1663.8,1199.2 L1666.8,1198.9 L1669.8,1198.6 L1672.7,1198.2 L1675.7,1197.9 L1678.7,1197.6 L1681.7,1197.3 L1684.6,1197.0 L1687.6,1196.7 L1690.6,1196.4 L1693.6,1196.1 L1696.5,1195.9 L1699.5,1195.6 L1702.5,1195.3 L1705.5,1195.1 L1708.5,1194.8 L1711.4,1194.5 L1714.4,1194.3 L1717.4,1194.0 L1720.4,1193.8 L1723.3,1193.6 L1726.3,1193.3 L1729.3,1193.1 L1732.3,1192.9 L1735.3,1192.7 L1738.2,1192.5 L1741.2,1192.3 L1744.2,1192.1 L1747.2,1191.9 L1750.2,1191.8 L1753.2,1191.6 L1756.1,1191.5 L1759.1,1191.3 L1762.1,1191.2 L1765.1,1191.0 L1768.1,1190.9 L1771.1,1190.8 L1774.0,1190.7 L1777.0,1190.6 L1780.0,1190.5 L1783.0,1190.4 L1786.0,1190.3 L1789.0,1190.3 L1792.0,1190.2 L1795.0,1190.2 L1798.0,1190.1 L1800.9,1190.1 L1803.9,1190.1 L1806.9,1190.1 L1809.9,1190.1 L1812.9,1190.1 L1815.9,1190.1 L1818.9,1190.1 L1821.9,1190.2 L1824.9,1190.2 L1827.9,1190.3 L1830.9,1190.3 L1833.9,1190.4 L1836.9,1190.5 L1839.9,1190.6 L1842.9,1190.7 L1845.9,1190.9 L1848.9,1191.0 L1851.9,1191.2 L1854.9,1191.3 L1857.9,1191.5 L1860.9,1191.7 L1863.9,1191.9 L1867.0,1192.1 L1870.0,1192.3 L1873.0,1192.6 L1876.0,1192.8 L1879.0,1193.1 L1882.0,1193.4 L1885.0,1193.7 L1888.0,1194.0 L1891.1,1194.3 L1894.1,1194.6 L1897.1,1194.9 L1900.1,1195.3 L1903.1,1195.7 L1906.2,1196.1 L1909.2,1196.5 L1912.2,1196.9" stroke="#ff0000" stroke-dasharray="24 11.5"/>
<path d="M338.0,1275.0 L340.7,1274.0 L343.4,1272.9 L346.2,1271.9 L349.0,1270.9 L351.8,1269.8 L354.7,1268.7 L357.6,1267.5 L360.4,1266.3 L363.2,1265.0 L366.0,1263.6 L368.6,1262.1 L371.2,1260.5 L373.7,1258.8 L376.0,1257.0 L378.2,1255.0 L380.3,1252.9 L382.3,1250.8 L384.2,1248.5 L386.1,1246.2 L387.8,1243.8 L389.5,1241.4 L391.0,1238.8 L392.6,1236.2 L394.0,1233.6 L395.5,1231.0 L396.8,1228.3 L398.2,1225.6 L399.5,1222.9 L400.8,1220.1 L402.0,1217.4 L403.2,1214.7 L404.4,1211.9 L405.6,1209.2 L406.7,1206.4 L407.9,1203.6 L409.0,1200.8 L410.0,1198.0 L411.1,1195.2 L412.1,1192.4 L413.1,1189.6 L414.1,1186.8 L415.1,1183.9 L416.0,1181.1 L416.9,1178.2 L417.9,1175.4 L418.7,1172.5 L419.6,1169.7 L420.5,1166.8 L421.3,1163.9 L422.1,1161.0 L422.9,1158.2 L423.7,1155.3 L424.5,1152.4 L425.3,1149.5 L426.0,1146.6 L426.7,1143.7 L427.5,1140.8 L428.2,1137.8 L428.9,1134.9 L429.6,1132.0 L430.3,1129.1 L430.9,1126.2 L431.6,1123.2 L432.3,1120.3 L432.9,1117.4 L433.6,1114.4 L434.2,1111.5 L434.8,1108.6 L435.5,1105.6 L436.1,1102.7 L436.7,1099.7 L437.3,1096.8 L438.0,1093.9 L438.6,1090.9 L439.2,1088.0 L439.8,1085.0 L440.4,1082.1 L441.0,1079.2 L441.6,1076.2 L442.2,1073.3 L442.8,1070.3 L443.4,1067.4 L444.0,1064.5 L444.5,1061.5 L445.1,1058.6 L445.7,1055.6 L446.3,1052.7 L446.9,1049.7 L447.4,1046.8 L448.0,1043.8 L448.6,1040.9 L449.1,1037.9 L449.7,1035.0 L450.2,1032.0 L450.8,1029.1 L451.4,1026.2 L451.9,1023.2 L452.5,1020.3 L453.0,1017.3 L453.6,1014.4 L454.1,1011.4 L454.6,1008.5 L455.2,1005.5 L455.7,1002.6 L456.2,999.6 L456.8,996.7 L457.3,993.7 L457.8,990.8 L458.4,987.8 L458.9,984.9 L459.4,981.9 L459.9,978.9 L460.5,976.0 L461.0,973.0 L461.5,970.1 L462.0,967.1 L462.5,964.2 L463.0,961.2 L463.5,958.3 L464.0,955.3 L464.6,952.4 L465.1,949.4 L465.6,946.5 L466.1,943.5 L466.6,940.6 L467.1,937.6 L467.6,934.6 L468.1,931.7 L468.5,928.7 L469.0,925.8 L469.5,922.8 L470.0,919.9 L470.5,916.9 L471.0,914.0 L471.5,911.0 L472.0,908.0 L472.5,905.1 L472.9,902.1 L473.4,899.2 L473.9,896.2 L474.4,893.3 L474.9,890.3 L475.3,887.3 L475.8,884.4 L476.3,881.4 L476.8,878.5 L477.3,875.5 L477.7,872.6 L478.2,869.6 L478.7,866.6 L479.1,863.7 L479.6,860.7 L480.1,857.8 L480.5,854.8 L481.0,851.8 L481.5,848.9 L481.9,845.9 L482.4,843.0 L482.9,840.0 L483.3,837.0 L483.8,834.1 L484.3,831.1 L484.7,828.2 L485.2,825.2 L485.6,822.2 L486.1,819.3 L486.6,816.3 L487.0,813.4 L487.5,810.4 L487.9,807.4 L488.4,804.5 L488.8,801.5 L489.3,798.6 L489.7,795.6 L490.2,792.6 L490.6,789.7 L491.1,786.7 L491.5,783.8 L492.0,780.8 L492.4,777.8 L492.9,774.9 L493.3,771.9 L493.8,768.9 L494.2,766.0 L494.6,763.0 L495.1,760.1 L495.5,757.1 L496.0,754.1 L496.4,751.2 L496.9,748.2 L497.3,745.2 L497.7,742.3 L498.2,739.3 L498.6,736.3 L499.0,733.4 L499.5,730.4 L499.9,727.4 L500.4,724.5 L500.8,721.5 L501.2,718.5 L501.7,715.6 L502.1,712.6 L502.5,709.6 L502.9,706.7 L503.4,703.7 L503.8,700.7 L504.2,697.8 L504.7,694.8 L505.1,691.8 L505.5,688.9 L506.0,685.9 L506.4,682.9 L506.8,680.0 L507.2,677.0 L507.7,674.0 L508.1,671.1 L508.5,668.1 L508.9,665.1 L509.4,662.2 L509.8,659.2 L510.2,656.2 L510.6,653.2 L511.1,650.3 L511.5,647.3 L511.9,644.3 L512.3,641.4 L512.7,638.4 L513.2,635.4 L513.6,632.4 L514.0,629.5 L514.4,626.5 L514.8,623.5 L515.3,620.6 L515.7,617.6 L516.1,614.6 L516.5,611.6 L516.9,608.7 L517.3,605.7 L517.8,602.7 L518.2,599.7 L518.6,596.8 L519.0,593.8 L519.4,590.8 L519.8,587.8 L520.3,584.9 L520.7,581.9 L521.1,578.9 L521.5,575.9 L521.9,573.0 L522.4,570.0 L522.8,567.0 L523.2,564.0 L523.6,561.1 L524.0,558.1 L524.5,555.1 L524.9,552.2 L525.3,549.2 L525.7,546.2 L526.2,543.2 L526.6,540.3 L527.0,537.3 L527.4,534.3 L527.9,531.3 L528.3,528.4 L528.7,525.4 L529.2,522.4 L529.6,519.5 L530.0,516.5 L530.5,513.5 L530.9,510.6 L531.4,507.6 L531.8,504.6 L532.2,501.7 L532.7,498.7 L533.1,495.7 L533.6,492.8 L534.0,489.8 L534.5,486.8 L534.9,483.9 L535.4,480.9 L535.9,477.9 L536.3,475.0 L536.8,472.0 L537.2,469.1 L537.7,466.1 L538.2,463.1 L538.7,460.2 L539.1,457.2 L539.6,454.3 L540.1,451.3 L540.6,448.4 L541.0,445.4 L541.5,442.5 L542.0,439.5 L542.5,436.6 L543.0,433.6 L543.5,430.7 L544.0,427.7 L544.5,424.8 L545.0,421.8 L545.5,418.9 L546.0,415.9 L546.5,413.0 L547.1,410.1 L547.6,407.1 L548.1,404.2 L548.6,401.2 L549.1,398.3 L549.7,395.4 L550.2,392.4 L550.7,389.5 L551.3,386.5 L551.8,383.6 L552.4,380.7 L552.9,377.7 L553.5,374.8 L554.0,371.9 L554.6,368.9 L555.1,366.0 L555.7,363.1 L556.2,360.1 L556.8,357.2 L557.4,354.3 L557.9,351.3 L558.5,348.4 L559.1,345.4 L559.7,342.5 L560.2,339.6 L560.8,336.6 L561.4,333.7 L562.0,330.8 L562.6,327.8 L563.2,324.9 L563.8,321.9 L564.4,319.0 L565.0,316.1 L565.6,313.1 L566.2,310.2 L566.8,307.2 L567.4,304.3 L568.0,301.4 L568.6,298.4 L569.3,295.5 L569.9,292.5 L570.5,289.6 L571.1,286.6 L571.8,283.7 L572.4,280.7 L573.0,277.8 L573.7,274.8 L574.3,271.9 L575.0,268.9 L575.6,266.0 L576.2,263.0 L576.9,260.1 L577.6,257.1 L578.2,254.2 L578.9,251.2 L579.5,248.2 L580.2,245.3 L580.9,242.3 L581.5,239.4 L582.2,236.4 L582.9,233.4 L583.6,230.5 L584.3,227.5 L585.0,224.6 L585.8,221.6 L586.5,218.7 L587.3,215.8 L588.2,212.9 L589.0,210.0 L589.9,207.1 L590.9,204.3 L591.9,201.5 L592.9,198.7 L594.0,195.9 L595.1,193.1 L596.3,190.4 L597.5,187.7 L598.8,185.0 L600.2,182.4 L601.6,179.8 L603.1,177.2 L604.7,174.7 L606.4,172.2 L608.1,169.8 L609.9,167.4 L611.8,165.0 L613.8,162.7 L615.9,160.4 L618.1,158.2 L620.3,156.2 L622.7,154.4 L625.1,153.0 L627.5,152.1 L630.0,151.7 L632.4,152.0 L634.9,152.7 L637.4,153.8 L639.7,155.3 L642.0,157.1 L644.2,159.1 L646.3,161.1 L648.2,163.4 L650.0,165.7 L651.7,168.1 L653.3,170.7 L654.9,173.3 L656.3,176.1 L657.7,178.9 L659.0,181.7 L660.2,184.7 L661.4,187.6 L662.5,190.6 L663.6,193.7 L664.6,196.7 L665.7,199.8 L666.6,202.8 L667.6,205.9 L668.6,208.9 L669.5,211.9 L670.5,214.9 L671.5,217.9 L672.4,220.8 L673.4,223.6 L674.4,226.4 L675.4,229.3 L676.3,232.0 L677.3,234.8 L678.3,237.6 L679.2,240.3 L680.2,243.0 L681.2,245.8 L682.1,248.5 L683.0,251.3 L684.0,254.0 L684.9,256.8 L685.7,259.6 L686.6,262.4 L687.5,265.2 L688.4,268.0 L689.2,270.8 L690.0,273.6 L690.8,276.5 L691.7,279.3 L692.5,282.2 L693.2,285.1 L694.0,288.0 L694.8,290.9 L695.5,293.7 L696.3,296.7 L697.0,299.6 L697.8,302.5 L698.5,305.4 L699.2,308.3 L699.9,311.3 L700.6,314.2 L701.3,317.2 L702.0,320.1 L702.6,323.0 L703.3,326.0 L704.0,329.0 L704.6,331.9 L705.3,334.9 L705.9,337.8 L706.5,340.8 L707.2,343.7 L707.8,346.7 L708.4,349.7 L709.1,352.6 L709.7,355.6 L710.3,358.5 L710.9,361.5 L711.5,364.4 L712.1,367.4 L712.7,370.3 L713.3,373.3 L713.9,376.2 L714.5,379.2 L715.1,382.1 L715.7,385.0 L716.3,388.0 L716.9,390.9 L717.5,393.8 L718.1,396.8 L718.7,399.7 L719.3,402.6 L719.9,405.5 L720.5,408.5 L721.2,411.4 L721.8,414.3 L722.4,417.2 L723.0,420.1 L723.7,423.1 L724.3,426.0 L725.0,428.9 L725.6,431.8 L726.3,434.7 L727.0,437.6 L727.7,440.5 L728.4,443.4 L729.1,446.3 L729.8,449.2 L730.5,452.1 L731.2,455.0 L732.0,457.9 L732.7,460.8 L733.5,463.7 L734.3,466.6 L735.0,469.5 L735.8,472.4 L736.6,475.3 L737.4,478.2 L738.2,481.1 L739.0,484.0 L739.8,486.9 L740.7,489.8 L741.5,492.7 L742.3,495.6 L743.1,498.4 L743.9,501.3 L744.6,504.2 L745.4,507.1 L746.2,510.0 L747.0,512.9 L747.7,515.8 L748.4,518.7 L749.2,521.7 L749.9,524.6 L750.5,527.5 L751.2,530.4 L751.9,533.3 L752.5,536.2 L753.1,539.1 L753.7,542.1 L754.2,545.0 L754.8,547.9 L755.3,550.8 L755.9,553.8 L756.4,556.7 L756.9,559.6 L757.4,562.6 L757.9,565.5 L758.4,568.5 L758.9,571.4 L759.3,574.3 L759.8,577.3 L760.3,580.2 L760.8,583.2 L761.3,586.1 L761.8,589.1 L762.2,592.0 L762.8,595.0 L763.3,597.9 L763.8,600.9 L764.3,603.8 L764.9,606.8 L765.4,609.7 L766.0,612.7 L766.6,615.6 L767.2,618.5 L767.8,621.5 L768.4,624.4 L769.0,627.4 L769.7,630.3 L770.3,633.3 L770.9,636.2 L771.6,639.2 L772.2,642.1 L772.9,645.0 L773.5,648.0 L774.1,650.9 L774.8,653.9 L775.4,656.8 L776.1,659.7 L776.7,662.7 L777.3,665.6 L778.0,668.6 L778.6,671.5 L779.2,674.4 L779.8,677.4 L780.5,680.3 L781.1,683.2 L781.7,686.2 L782.3,689.1 L783.0,692.0 L783.6,694.9 L784.2,697.9 L784.8,700.8 L785.5,703.7 L786.1,706.7 L786.7,709.6 L787.3,712.5 L788.0,715.4 L788.6,718.4 L789.2,721.3 L789.9,724.2 L790.5,727.1 L791.1,730.0 L791.8,733.0 L792.4,735.9 L793.1,738.8 L793.7,741.7 L794.4,744.6 L795.0,747.6 L795.7,750.5 L796.3,753.4 L797.0,756.3 L797.7,759.2 L798.3,762.1 L799.0,765.0 L799.7,768.0 L800.4,770.9 L801.0,773.8 L801.7,776.7 L802.4,779.6 L803.1,782.5 L803.8,785.4 L804.5,788.3 L805.3,791.2 L806.0,794.1 L806.7,797.0 L807.4,799.9 L808.2,802.8 L808.9,805.7 L809.7,808.6 L810.4,811.5 L811.2,814.4 L811.9,817.3 L812.7,820.2 L813.5,823.1 L814.3,826.0 L815.1,828.9 L815.9,831.8 L816.7,834.7 L817.5,837.6 L818.3,840.5 L819.2,843.4 L820.0,846.3 L820.9,849.2 L821.7,852.1 L822.6,855.0 L823.5,857.9 L824.4,860.7 L825.3,863.6 L826.2,866.5 L827.1,869.4 L828.0,872.3 L829.0,875.1 L829.9,878.0 L830.9,880.9 L831.9,883.7 L832.9,886.6 L833.9,889.4 L834.9,892.2 L836.0,895.1 L837.0,897.9 L838.1,900.7 L839.2,903.5 L840.3,906.3 L841.5,909.0 L842.6,911.8 L843.8,914.5 L845.0,917.3 L846.2,920.0 L847.4,922.7 L848.7,925.4 L850.0,928.1 L851.3,930.7 L852.6,933.4 L853.9,936.0 L855.3,938.7 L856.6,941.3 L857.9,944.0 L859.2,946.6 L860.5,949.3 L861.7,952.0 L862.9,954.8 L864.0,957.5 L865.1,960.3 L866.1,963.2 L867.0,966.1 L867.9,969.0 L868.8,971.9 L869.6,974.8 L870.5,977.8 L871.3,980.7 L872.2,983.6 L873.1,986.5 L874.0,989.4 L875.0,992.2 L876.0,995.1 L877.0,997.9 L878.0,1000.7 L879.1,1003.4 L880.1,1006.2 L881.2,1008.9 L882.4,1011.7 L883.5,1014.4 L884.7,1017.1 L885.9,1019.8 L887.1,1022.5 L888.4,1025.1 L889.6,1027.8 L890.9,1030.4 L892.2,1033.1 L893.6,1035.7 L894.9,1038.4 L896.3,1041.0 L897.7,1043.6 L899.1,1046.3 L900.5,1048.9 L902.0,1051.5 L903.4,1054.1 L904.9,1056.7 L906.4,1059.3 L908.0,1061.9 L909.5,1064.5 L911.1,1067.1 L912.7,1069.6 L914.3,1072.2 L915.9,1074.7 L917.6,1077.3 L919.2,1079.8 L920.9,1082.3 L922.6,1084.8 L924.3,1087.3 L926.1,1089.8 L927.8,1092.3 L929.6,1094.7 L931.4,1097.2 L933.2,1099.6 L935.1,1102.0 L936.9,1104.4 L938.8,1106.8 L940.7,1109.2 L942.6,1111.5 L944.6,1113.8 L946.5,1116.2 L948.5,1118.5 L950.5,1120.7 L952.5,1123.0 L954.6,1125.2 L956.6,1127.4 L958.7,1129.6 L960.8,1131.8 L962.9,1133.9 L965.0,1136.1 L967.2,1138.2 L969.3,1140.3 L971.5,1142.3 L973.7,1144.3 L975.9,1146.4 L978.2,1148.3 L980.5,1150.3 L982.7,1152.2 L985.0,1154.1 L987.4,1156.0 L989.7,1157.8 L992.1,1159.7 L994.4,1161.4 L996.8,1163.2 L999.3,1164.9 L1001.7,1166.6 L1004.2,1168.3 L1006.6,1169.9 L1009.1,1171.5 L1011.6,1173.1 L1014.2,1174.6 L1016.7,1176.2 L1019.3,1177.6 L1021.9,1179.1 L1024.5,1180.5 L1027.1,1181.9 L1029.7,1183.3 L1032.3,1184.6 L1035.0,1185.9 L1037.7,1187.2 L1040.4,1188.5 L1043.1,1189.7 L1045.8,1190.9 L1048.5,1192.1 L1051.3,1193.3 L1054.0,1194.4 L1056.8,1195.5 L1059.6,1196.6 L1062.4,1197.7 L1065.2,1198.7 L1068.0,1199.7 L1070.8,1200.7 L1073.6,1201.7 L1076.5,1202.6 L1079.3,1203.6 L1082.2,1204.5 L1085.1,1205.4 L1087.9,1206.2 L1090.8,1207.1 L1093.7,1207.9 L1096.6,1208.7 L1099.5,1209.5 L1102.4,1210.3 L1105.4,1211.0 L1108.3,1211.8 L1111.2,1212.5 L1114.2,1213.2 L1117.1,1213.9 L1120.1,1214.6 L1123.0,1215.2 L1126.0,1215.9 L1128.9,1216.5 L1131.9,1217.1 L1134.8,1217.7 L1137.8,1218.3 L1140.8,1218.9 L1143.7,1219.4 L1146.7,1220.0 L1149.7,1220.5 L1152.7,1221.0 L1155.6,1221.5 L1158.6,1222.0 L1161.6,1222.5 L1164.5,1223.0 L1167.5,1223.5 L1170.5,1223.9 L1173.5,1224.3 L1176.4,1224.8 L1179.4,1225.2 L1182.4,1225.6 L1185.4,1226.0 L1188.4,1226.4 L1191.3,1226.7 L1194.3,1227.1 L1197.3,1227.5 L1200.3,1227.8 L1203.3,1228.1 L1206.2,1228.4 L1209.2,1228.8 L1212.2,1229.1 L1215.2,1229.3 L1218.2,1229.6 L1221.2,1229.9 L1224.1,1230.1 L1227.1,1230.4 L1230.1,1230.6 L1233.1,1230.8 L1236.1,1231.1 L1239.1,1231.3 L1242.1,1231.5 L1245.1,1231.6 L1248.0,1231.8 L1251.0,1232.0 L1254.0,1232.2 L1257.0,1232.3 L1260.0,1232.4 L1263.0,1232.6 L1266.0,1232.7 L1269.0,1232.8 L1272.0,1232.9 L1274.9,1233.0 L1277.9,1233.1 L1280.9,1233.2 L1283.9,1233.2 L1286.9,1233.3 L1289.9,1233.3 L1292.9,1233.4 L1295.9,1233.4 L1298.9,1233.4 L1301.9,1233.5 L1304.9,1233.5 L1307.8,1233.5 L1310.8,1233.5 L1313.8,1233.4 L1316.8,1233.4 L1319.8,1233.4 L1322.8,1233.3 L1325.8,1233.3 L1328.8,1233.2 L1331.8,1233.2 L1334.8,1233.1 L1337.8,1233.0 L1340.8,1233.0 L1343.7,1232.9 L1346.7,1232.8 L1349.7,1232.7 L1352.7,1232.6 L1355.7,1232.4 L1358.7,1232.3 L1361.7,1232.2 L1364.7,1232.0 L1367.7,1231.9 L1370.7,1231.7 L1373.7,1231.6 L1376.7,1231.4 L1379.6,1231.2 L1382.6,1231.1 L1385.6,1230.9 L1388.6,1230.7 L1391.6,1230.5 L1394.6,1230.3 L1397.6,1230.1 L1400.6,1229.9 L1403.6,1229.7 L1406.6,1229.5 L1409.5,1229.2 L1412.5,1229.0 L1415.5,1228.8 L1418.5,1228.5 L1421.5,1228.3 L1424.5,1228.0 L1427.5,1227.8 L1430.5,1227.5 L1433.4,1227.3 L1436.4,1227.0 L1439.4,1226.7 L1442.4,1226.5 L1445.4,1226.2 L1448.4,1225.9 L1451.4,1225.6 L1454.4,1225.4 L1457.3,1225.1 L1460.3,1224.8 L1463.3,1224.5 L1466.3,1224.2 L1469.3,1223.9 L1472.3,1223.6 L1475.3,1223.3 L1478.3,1223.0 L1481.2,1222.7 L1484.2,1222.4 L1487.2,1222.1 L1490.2,1221.8 L1493.2,1221.5 L1496.2,1221.2 L1499.2,1220.8 L1502.1,1220.5 L1505.1,1220.2 L1508.1,1219.9 L1511.1,1219.6 L1514.1,1219.3 L1517.1,1218.9 L1520.1,1218.6 L1523.0,1218.3 L1526.0,1218.0 L1529.0,1217.7 L1532.0,1217.3 L1535.0,1217.0 L1538.0,1216.7 L1540.9,1216.4 L1543.9,1216.1 L1546.9,1215.7 L1549.9,1215.4 L1552.9,1215.1 L1555.9,1214.8 L1558.9,1214.5 L1561.8,1214.2 L1564.8,1213.9 L1567.8,1213.6 L1570.8,1213.2 L1573.8,1212.9 L1576.8,1212.6 L1579.7,1212.3 L1582.7,1212.0 L1585.7,1211.7 L1588.7,1211.4 L1591.7,1211.1 L1594.7,1210.8 L1597.6,1210.6 L1600.6,1210.3 L1603.6,1210.0 L1606.6,1209.7 L1609.6,1209.4 L1612.6,1209.2 L1615.6,1208.9 L1618.5,1208.6 L1621.5,1208.3 L1624.5,1208.1 L1627.5,1207.8 L1630.5,1207.6 L1633.5,1207.3 L1636.5,1207.1 L1639.4,1206.8 L1642.4,1206.6 L1645.4,1206.4 L1648.4,1206.1 L1651.4,1205.9 L1654.4,1205.7 L1657.4,1205.5 L1660.4,1205.3 L1663.3,1205.1 L1666.3,1204.9 L1669.3,1204.7 L1672.3,1204.5 L1675.3,1204.3 L1678.3,1204.1 L1681.3,1203.9 L1684.3,1203.8 L1687.3,1203.6 L1690.2,1203.4 L1693.2,1203.3 L1696.2,1203.1 L1699.2,1203.0 L1702.2,1202.9 L1705.2,1202.8 L1708.2,1202.6 L1711.2,1202.5 L1714.2,1202.4 L1717.2,1202.3 L1720.2,1202.2 L1723.2,1202.2 L1726.2,1202.1 L1729.2,1202.0 L1732.1,1202.0 L1735.1,1201.9 L1738.1,1201.9 L1741.1,1201.8 L1744.1,1201.8 L1747.1,1201.8 L1750.1,1201.8 L1753.1,1201.7 L1756.1,1201.7 L1759.1,1201.8 L1762.1,1201.8 L1765.1,1201.8 L1768.1,1201.8 L1771.1,1201.8 L1774.1,1201.9 L1777.1,1201.9 L1780.1,1202.0 L1783.1,1202.0 L1786.1,1202.1 L1789.1,1202.2 L1792.1,1202.2 L1795.1,1202.3 L1798.1,1202.4 L1801.1,1202.5 L1804.1,1202.6 L1807.1,1202.7 L1810.1,1202.8 L1813.1,1202.9 L1816.1,1203.0 L1819.1,1203.1 L1822.1,1203.2 L1825.1,1203.3 L1828.1,1203.4 L1831.1,1203.5 L1834.1,1203.7 L1837.1,1203.8 L1840.1,1203.9 L1843.1,1204.0 L1846.1,1204.2 L1849.1,1204.3 L1852.1,1204.4 L1855.1,1204.6 L1858.1,1204.7 L1861.1,1204.9 L1864.1,1205.0 L1867.1,1205.1 L1870.1,1205.3 L1873.1,1205.4 L1876.1,1205.5 L1879.1,1205.7 L1882.1,1205.8 L1885.1,1206.0 L1888.1,1206.1 L1891.1,1206.2 L1894.0,1206.4 L1897.0,1206.5 L1900.0,1206.6 L1903.0,1206.8 L1906.0,1206.9 L1909.0,1207.0 L1912.0,1207.2" stroke="#1b6edf" stroke-dasharray="24 11.5"/>
<path d="M355.8,1275.2 L358.8,1274.0 L361.7,1272.8 L364.5,1271.4 L367.2,1269.9 L369.8,1268.3 L372.3,1266.7 L374.8,1265.0 L377.2,1263.1 L379.4,1261.3 L381.7,1259.3 L383.8,1257.3 L385.8,1255.2 L387.8,1253.0 L389.8,1250.8 L391.6,1248.5 L393.4,1246.2 L395.2,1243.8 L396.9,1241.3 L398.5,1238.9 L400.1,1236.4 L401.6,1233.8 L403.1,1231.2 L404.6,1228.6 L406.0,1225.9 L407.4,1223.3 L408.8,1220.6 L410.1,1217.9 L411.4,1215.1 L412.7,1212.4 L413.9,1209.6 L415.2,1206.9 L416.4,1204.1 L417.6,1201.4 L418.8,1198.6 L419.9,1195.8 L421.1,1193.0 L422.2,1190.3 L423.3,1187.5 L424.4,1184.7 L425.5,1181.9 L426.6,1179.1 L427.6,1176.3 L428.7,1173.4 L429.7,1170.6 L430.7,1167.8 L431.7,1165.0 L432.7,1162.1 L433.6,1159.3 L434.6,1156.5 L435.5,1153.6 L436.4,1150.8 L437.4,1147.9 L438.3,1145.1 L439.1,1142.2 L440.0,1139.3 L440.9,1136.5 L441.7,1133.6 L442.6,1130.7 L443.4,1127.9 L444.2,1125.0 L445.0,1122.1 L445.8,1119.2 L446.6,1116.3 L447.4,1113.4 L448.1,1110.5 L448.9,1107.6 L449.6,1104.7 L450.4,1101.8 L451.1,1098.9 L451.8,1096.0 L452.5,1093.1 L453.2,1090.2 L453.9,1087.3 L454.6,1084.4 L455.3,1081.4 L455.9,1078.5 L456.6,1075.6 L457.3,1072.7 L457.9,1069.7 L458.6,1066.8 L459.2,1063.9 L459.8,1061.0 L460.5,1058.0 L461.1,1055.1 L461.7,1052.2 L462.3,1049.2 L462.9,1046.3 L463.5,1043.3 L464.1,1040.4 L464.7,1037.5 L465.3,1034.5 L465.9,1031.6 L466.5,1028.6 L467.1,1025.7 L467.6,1022.7 L468.2,1019.8 L468.8,1016.8 L469.4,1013.9 L470.0,1010.9 L470.5,1008.0 L471.1,1005.1 L471.7,1002.1 L472.2,999.2 L472.8,996.2 L473.4,993.3 L473.9,990.3 L474.5,987.4 L475.1,984.4 L475.6,981.5 L476.2,978.5 L476.7,975.6 L477.3,972.6 L477.9,969.7 L478.4,966.7 L479.0,963.8 L479.5,960.8 L480.1,957.9 L480.7,954.9 L481.2,952.0 L481.8,949.0 L482.3,946.1 L482.9,943.1 L483.4,940.2 L484.0,937.2 L484.5,934.3 L485.1,931.4 L485.6,928.4 L486.2,925.5 L486.7,922.5 L487.3,919.6 L487.8,916.6 L488.4,913.7 L488.9,910.7 L489.5,907.8 L490.0,904.8 L490.6,901.9 L491.1,898.9 L491.7,896.0 L492.2,893.0 L492.7,890.1 L493.3,887.1 L493.8,884.2 L494.4,881.2 L494.9,878.3 L495.5,875.3 L496.0,872.4 L496.5,869.4 L497.1,866.5 L497.6,863.5 L498.2,860.6 L498.7,857.6 L499.2,854.7 L499.8,851.7 L500.3,848.8 L500.9,845.8 L501.4,842.9 L501.9,839.9 L502.5,837.0 L503.0,834.0 L503.5,831.1 L504.1,828.1 L504.6,825.2 L505.2,822.2 L505.7,819.3 L506.2,816.3 L506.8,813.4 L507.3,810.4 L507.8,807.5 L508.4,804.5 L508.9,801.6 L509.4,798.6 L510.0,795.7 L510.5,792.7 L511.0,789.8 L511.6,786.9 L512.1,783.9 L512.6,781.0 L513.2,778.0 L513.7,775.1 L514.2,772.1 L514.8,769.2 L515.3,766.2 L515.8,763.3 L516.4,760.3 L516.9,757.4 L517.4,754.4 L518.0,751.5 L518.5,748.5 L519.0,745.6 L519.6,742.6 L520.1,739.7 L520.6,736.7 L521.2,733.8 L521.7,730.8 L522.2,727.9 L522.8,724.9 L523.3,722.0 L523.9,719.0 L524.4,716.1 L524.9,713.1 L525.5,710.2 L526.0,707.2 L526.5,704.3 L527.1,701.3 L527.6,698.4 L528.1,695.4 L528.7,692.5 L529.2,689.5 L529.7,686.6 L530.3,683.6 L530.8,680.7 L531.4,677.7 L531.9,674.8 L532.4,671.8 L533.0,668.9 L533.5,665.9 L534.0,663.0 L534.6,660.0 L535.1,657.1 L535.7,654.1 L536.2,651.2 L536.7,648.2 L537.3,645.3 L537.8,642.3 L538.4,639.4 L538.9,636.4 L539.5,633.5 L540.0,630.5 L540.5,627.6 L541.1,624.6 L541.6,621.7 L542.2,618.7 L542.7,615.8 L543.3,612.8 L543.8,609.9 L544.4,606.9 L544.9,604.0 L545.5,601.0 L546.0,598.1 L546.6,595.1 L547.1,592.2 L547.7,589.2 L548.2,586.3 L548.8,583.3 L549.3,580.4 L549.9,577.4 L550.4,574.5 L551.0,571.6 L551.6,568.6 L552.1,565.7 L552.7,562.7 L553.3,559.8 L553.8,556.8 L554.4,553.9 L555.0,550.9 L555.5,548.0 L556.1,545.0 L556.7,542.1 L557.2,539.1 L557.8,536.2 L558.4,533.3 L559.0,530.3 L559.6,527.4 L560.1,524.4 L560.7,521.5 L561.3,518.6 L561.9,515.6 L562.5,512.7 L563.1,509.7 L563.7,506.8 L564.3,503.9 L564.9,500.9 L565.5,498.0 L566.1,495.0 L566.7,492.1 L567.3,489.2 L567.9,486.2 L568.5,483.3 L569.1,480.4 L569.7,477.4 L570.4,474.5 L571.0,471.6 L571.6,468.6 L572.2,465.7 L572.9,462.8 L573.5,459.8 L574.1,456.9 L574.8,454.0 L575.4,451.1 L576.1,448.1 L576.7,445.2 L577.3,442.3 L578.0,439.4 L578.7,436.4 L579.3,433.5 L580.0,430.6 L580.6,427.7 L581.3,424.7 L582.0,421.8 L582.7,418.9 L583.3,416.0 L584.0,413.1 L584.7,410.2 L585.4,407.2 L586.1,404.3 L586.8,401.4 L587.5,398.5 L588.2,395.6 L588.9,392.7 L589.6,389.8 L590.3,386.9 L591.0,384.0 L591.7,381.0 L592.5,378.1 L593.2,375.2 L593.9,372.3 L594.6,369.4 L595.4,366.5 L596.1,363.6 L596.8,360.7 L597.5,357.8 L598.3,354.9 L599.0,352.0 L599.7,349.1 L600.4,346.1 L601.2,343.2 L601.9,340.3 L602.6,337.4 L603.3,334.5 L604.0,331.6 L604.8,328.7 L605.5,325.7 L606.2,322.8 L606.9,319.9 L607.6,317.0 L608.3,314.1 L609.0,311.1 L609.8,308.2 L610.6,305.4 L611.4,302.5 L612.2,299.7 L613.1,296.8 L614.0,294.0 L614.9,291.2 L615.9,288.5 L616.9,285.7 L617.9,282.9 L618.9,280.1 L619.9,277.3 L620.9,274.4 L622.0,271.6 L623.0,268.7 L624.1,265.9 L625.2,263.0 L626.3,260.1 L627.5,257.3 L628.8,254.5 L630.1,251.8 L631.4,249.1 L632.9,246.4 L634.5,243.9 L636.1,241.5 L637.9,239.1 L639.7,236.9 L641.8,234.8 L643.9,232.8 L646.2,230.9 L648.7,229.3 L651.3,227.8 L654.0,226.4 L656.9,225.3 L659.9,224.4 L662.9,223.7 L666.0,223.3 L669.0,223.1 L671.9,223.2 L674.8,223.6 L677.6,224.3 L680.2,225.4 L682.6,226.8 L684.8,228.5 L686.8,230.6 L688.6,232.9 L690.3,235.4 L691.9,238.0 L693.4,240.6 L694.8,243.2 L696.3,245.9 L697.7,248.6 L699.0,251.3 L700.4,254.0 L701.8,256.6 L703.1,259.3 L704.5,262.0 L705.8,264.7 L707.2,267.4 L708.5,270.1 L709.9,272.8 L711.2,275.5 L712.6,278.2 L713.9,280.8 L715.2,283.5 L716.5,286.2 L717.8,288.9 L719.1,291.6 L720.4,294.3 L721.7,297.1 L723.0,299.8 L724.2,302.5 L725.4,305.2 L726.7,307.9 L727.9,310.7 L729.1,313.4 L730.2,316.2 L731.4,318.9 L732.5,321.7 L733.6,324.5 L734.7,327.2 L735.8,330.0 L736.9,332.8 L738.0,335.6 L739.0,338.4 L740.0,341.2 L741.0,344.1 L742.0,346.9 L743.0,349.7 L744.0,352.5 L744.9,355.4 L745.8,358.2 L746.8,361.1 L747.7,363.9 L748.6,366.8 L749.5,369.6 L750.4,372.5 L751.3,375.4 L752.2,378.2 L753.1,381.1 L753.9,384.0 L754.8,386.9 L755.7,389.7 L756.5,392.6 L757.4,395.5 L758.3,398.3 L759.1,401.2 L760.0,404.1 L760.8,407.0 L761.7,409.8 L762.5,412.7 L763.4,415.6 L764.2,418.5 L765.0,421.3 L765.9,424.2 L766.7,427.1 L767.5,430.0 L768.4,432.8 L769.2,435.7 L770.0,438.6 L770.9,441.5 L771.7,444.4 L772.5,447.2 L773.4,450.1 L774.2,453.0 L775.0,455.9 L775.8,458.8 L776.6,461.6 L777.5,464.5 L778.3,467.4 L779.1,470.3 L779.9,473.2 L780.7,476.0 L781.5,478.9 L782.3,481.8 L783.1,484.7 L784.0,487.6 L784.8,490.5 L785.6,493.4 L786.4,496.2 L787.2,499.1 L788.0,502.0 L788.8,504.9 L789.6,507.8 L790.4,510.7 L791.2,513.6 L792.0,516.5 L792.8,519.4 L793.6,522.3 L794.4,525.1 L795.2,528.0 L796.0,530.9 L796.8,533.8 L797.6,536.7 L798.4,539.6 L799.2,542.5 L800.0,545.4 L800.8,548.3 L801.6,551.2 L802.4,554.1 L803.3,557.0 L804.1,559.8 L804.9,562.7 L805.7,565.6 L806.5,568.5 L807.3,571.4 L808.2,574.3 L809.0,577.2 L809.8,580.1 L810.7,582.9 L811.5,585.8 L812.3,588.7 L813.2,591.6 L814.0,594.5 L814.9,597.3 L815.7,600.2 L816.6,603.1 L817.4,606.0 L818.3,608.8 L819.2,611.7 L820.0,614.6 L820.9,617.4 L821.8,620.3 L822.7,623.2 L823.6,626.0 L824.5,628.9 L825.4,631.8 L826.3,634.6 L827.2,637.5 L828.1,640.3 L829.0,643.2 L829.9,646.0 L830.9,648.9 L831.8,651.7 L832.7,654.5 L833.7,657.4 L834.6,660.2 L835.6,663.1 L836.6,665.9 L837.5,668.7 L838.5,671.6 L839.5,674.4 L840.4,677.2 L841.4,680.1 L842.4,682.9 L843.4,685.7 L844.4,688.5 L845.3,691.4 L846.3,694.2 L847.3,697.0 L848.3,699.9 L849.3,702.7 L850.2,705.5 L851.2,708.3 L852.2,711.2 L853.2,714.0 L854.2,716.8 L855.1,719.7 L856.1,722.5 L857.1,725.4 L858.0,728.2 L859.0,731.0 L860.0,733.9 L861.0,736.7 L861.9,739.6 L862.9,742.4 L863.9,745.2 L864.8,748.1 L865.8,750.9 L866.8,753.8 L867.8,756.6 L868.7,759.4 L869.7,762.3 L870.7,765.1 L871.7,768.0 L872.7,770.8 L873.6,773.6 L874.6,776.5 L875.6,779.3 L876.6,782.1 L877.6,785.0 L878.6,787.8 L879.6,790.6 L880.6,793.5 L881.6,796.3 L882.6,799.1 L883.7,801.9 L884.7,804.8 L885.7,807.6 L886.7,810.4 L887.8,813.2 L888.8,816.0 L889.9,818.8 L890.9,821.7 L892.0,824.5 L893.1,827.3 L894.1,830.1 L895.2,832.9 L896.3,835.7 L897.4,838.5 L898.5,841.2 L899.6,844.0 L900.7,846.8 L901.9,849.6 L903.0,852.4 L904.1,855.1 L905.3,857.9 L906.4,860.7 L907.6,863.4 L908.8,866.2 L909.9,869.0 L911.1,871.7 L912.3,874.5 L913.6,877.2 L914.8,879.9 L916.0,882.7 L917.2,885.4 L918.5,888.1 L919.8,890.8 L921.0,893.5 L922.3,896.2 L923.6,898.9 L924.9,901.6 L926.2,904.3 L927.6,907.0 L928.9,909.7 L930.3,912.3 L931.7,915.0 L933.0,917.6 L934.4,920.3 L935.8,922.9 L937.3,925.5 L938.7,928.2 L940.1,930.8 L941.6,933.4 L943.1,936.0 L944.6,938.6 L946.1,941.2 L947.6,943.7 L949.1,946.3 L950.7,948.8 L952.3,951.4 L953.8,953.9 L955.4,956.5 L957.1,959.0 L958.7,961.5 L960.3,964.0 L962.0,966.5 L963.7,969.0 L965.3,971.5 L967.0,973.9 L968.7,976.4 L970.4,978.9 L972.1,981.4 L973.8,983.8 L975.5,986.3 L977.2,988.8 L978.9,991.3 L980.5,993.8 L982.2,996.3 L983.8,998.8 L985.5,1001.3 L987.1,1003.9 L988.8,1006.4 L990.4,1008.9 L992.0,1011.4 L993.7,1013.9 L995.3,1016.5 L996.9,1019.0 L998.6,1021.5 L1000.2,1024.0 L1001.9,1026.5 L1003.5,1029.0 L1005.2,1031.5 L1006.9,1034.0 L1008.6,1036.4 L1010.3,1038.9 L1012.0,1041.4 L1013.8,1043.8 L1015.5,1046.2 L1017.3,1048.6 L1019.1,1051.0 L1020.9,1053.4 L1022.7,1055.8 L1024.6,1058.1 L1026.5,1060.4 L1028.4,1062.7 L1030.3,1065.0 L1032.3,1067.3 L1034.3,1069.5 L1036.2,1071.7 L1038.3,1074.0 L1040.3,1076.2 L1042.4,1078.3 L1044.4,1080.5 L1046.5,1082.6 L1048.7,1084.7 L1050.8,1086.8 L1053.0,1088.9 L1055.1,1091.0 L1057.3,1093.0 L1059.5,1095.0 L1061.8,1097.0 L1064.0,1099.0 L1066.3,1101.0 L1068.6,1102.9 L1070.9,1104.9 L1073.2,1106.8 L1075.6,1108.6 L1077.9,1110.5 L1080.3,1112.4 L1082.7,1114.2 L1085.1,1116.0 L1087.5,1117.8 L1089.9,1119.6 L1092.4,1121.3 L1094.8,1123.0 L1097.3,1124.8 L1099.8,1126.4 L1102.3,1128.1 L1104.8,1129.8 L1107.4,1131.4 L1109.9,1133.0 L1112.5,1134.6 L1115.0,1136.2 L1117.6,1137.7 L1120.2,1139.3 L1122.8,1140.8 L1125.4,1142.3 L1128.0,1143.7 L1130.7,1145.2 L1133.3,1146.6 L1136.0,1148.0 L1138.6,1149.4 L1141.3,1150.8 L1144.0,1152.1 L1146.7,1153.4 L1149.4,1154.8 L1152.1,1156.0 L1154.8,1157.3 L1157.6,1158.6 L1160.3,1159.8 L1163.0,1161.0 L1165.8,1162.2 L1168.6,1163.3 L1171.3,1164.5 L1174.1,1165.6 L1176.9,1166.7 L1179.7,1167.8 L1182.4,1168.8 L1185.2,1169.9 L1188.0,1170.9 L1190.9,1171.9 L1193.7,1172.9 L1196.5,1173.9 L1199.3,1174.8 L1202.2,1175.8 L1205.0,1176.7 L1207.9,1177.6 L1210.7,1178.4 L1213.6,1179.3 L1216.4,1180.2 L1219.3,1181.0 L1222.2,1181.8 L1225.0,1182.6 L1227.9,1183.4 L1230.8,1184.1 L1233.7,1184.9 L1236.6,1185.6 L1239.5,1186.3 L1242.4,1187.0 L1245.3,1187.7 L1248.3,1188.3 L1251.2,1189.0 L1254.1,1189.6 L1257.0,1190.2 L1260.0,1190.9 L1262.9,1191.4 L1265.8,1192.0 L1268.8,1192.6 L1271.7,1193.1 L1274.7,1193.7 L1277.6,1194.2 L1280.6,1194.7 L1283.6,1195.2 L1286.5,1195.7 L1289.5,1196.1 L1292.4,1196.6 L1295.4,1197.0 L1298.4,1197.5 L1301.4,1197.9 L1304.3,1198.3 L1307.3,1198.7 L1310.3,1199.1 L1313.3,1199.5 L1316.3,1199.8 L1319.3,1200.2 L1322.3,1200.5 L1325.3,1200.8 L1328.3,1201.2 L1331.2,1201.5 L1334.2,1201.8 L1337.2,1202.1 L1340.2,1202.3 L1343.2,1202.6 L1346.2,1202.9 L1349.2,1203.1 L1352.2,1203.4 L1355.3,1203.6 L1358.3,1203.8 L1361.3,1204.0 L1364.3,1204.2 L1367.3,1204.4 L1370.3,1204.6 L1373.3,1204.8 L1376.3,1205.0 L1379.3,1205.2 L1382.3,1205.3 L1385.3,1205.5 L1388.3,1205.6 L1391.3,1205.8 L1394.3,1205.9 L1397.3,1206.0 L1400.3,1206.2 L1403.3,1206.3 L1406.3,1206.4 L1409.3,1206.5 L1412.3,1206.6 L1415.3,1206.7 L1418.3,1206.8 L1421.3,1206.8 L1424.3,1206.9 L1427.3,1207.0 L1430.3,1207.0 L1433.3,1207.1 L1436.3,1207.1 L1439.3,1207.2 L1442.2,1207.2 L1445.2,1207.2 L1448.2,1207.3 L1451.2,1207.3 L1454.2,1207.3 L1457.2,1207.3 L1460.2,1207.3 L1463.2,1207.3 L1466.2,1207.3 L1469.2,1207.2 L1472.1,1207.2 L1475.1,1207.2 L1478.1,1207.1 L1481.1,1207.1 L1484.1,1207.0 L1487.1,1207.0 L1490.1,1206.9 L1493.1,1206.8 L1496.0,1206.8 L1499.0,1206.7 L1502.0,1206.6 L1505.0,1206.5 L1508.0,1206.4 L1511.0,1206.3 L1514.0,1206.2 L1517.0,1206.0 L1520.0,1205.9 L1522.9,1205.8 L1525.9,1205.6 L1528.9,1205.5 L1531.9,1205.3 L1534.9,1205.2 L1537.9,1205.0 L1540.9,1204.8 L1543.9,1204.7 L1546.9,1204.5 L1549.8,1204.3 L1552.8,1204.1 L1555.8,1203.9 L1558.8,1203.7 L1561.8,1203.5 L1564.8,1203.3 L1567.8,1203.0 L1570.8,1202.8 L1573.8,1202.6 L1576.8,1202.4 L1579.8,1202.1 L1582.8,1201.9 L1585.8,1201.7 L1588.8,1201.4 L1591.8,1201.2 L1594.7,1201.0 L1597.7,1200.7 L1600.7,1200.5 L1603.7,1200.2 L1606.7,1200.0 L1609.7,1199.8 L1612.7,1199.5 L1615.7,1199.3 L1618.7,1199.0 L1621.7,1198.8 L1624.7,1198.6 L1627.7,1198.3 L1630.7,1198.1 L1633.7,1197.9 L1636.7,1197.6 L1639.7,1197.4 L1642.7,1197.2 L1645.7,1197.0 L1648.7,1196.8 L1651.7,1196.6 L1654.7,1196.4 L1657.7,1196.2 L1660.7,1196.0 L1663.7,1195.8 L1666.7,1195.6 L1669.7,1195.5 L1672.7,1195.3 L1675.7,1195.1 L1678.7,1195.0 L1681.7,1194.8 L1684.7,1194.7 L1687.6,1194.6 L1690.6,1194.4 L1693.6,1194.3 L1696.6,1194.2 L1699.6,1194.1 L1702.6,1194.0 L1705.6,1193.9 L1708.6,1193.8 L1711.6,1193.7 L1714.6,1193.7 L1717.6,1193.6 L1720.6,1193.5 L1723.6,1193.5 L1726.6,1193.4 L1729.6,1193.4 L1732.6,1193.4 L1735.6,1193.4 L1738.6,1193.3 L1741.6,1193.3 L1744.6,1193.3 L1747.6,1193.3 L1750.6,1193.3 L1753.6,1193.4 L1756.6,1193.4 L1759.6,1193.4 L1762.6,1193.5 L1765.5,1193.5 L1768.5,1193.5 L1771.5,1193.6 L1774.5,1193.7 L1777.5,1193.7 L1780.5,1193.8 L1783.5,1193.9 L1786.5,1194.0 L1789.5,1194.1 L1792.5,1194.2 L1795.5,1194.3 L1798.5,1194.4 L1801.5,1194.6 L1804.5,1194.7 L1807.5,1194.9 L1810.4,1195.0 L1813.4,1195.2 L1816.4,1195.3 L1819.4,1195.5 L1822.4,1195.7 L1825.4,1195.8 L1828.4,1196.0 L1831.4,1196.2 L1834.4,1196.4 L1837.4,1196.7 L1840.3,1196.9 L1843.3,1197.1 L1846.3,1197.3 L1849.3,1197.6 L1852.3,1197.8 L1855.3,1198.1 L1858.3,1198.3 L1861.3,1198.6 L1864.3,1198.9 L1867.2,1199.1 L1870.2,1199.4 L1873.2,1199.7 L1876.2,1200.0 L1879.2,1200.3 L1882.2,1200.7 L1885.1,1201.0 L1888.1,1201.3 L1891.1,1201.6 L1894.1,1202.0 L1897.1,1202.3 L1900.1,1202.7 L1903.0,1203.1 L1906.0,1203.4 L1909.0,1203.8 L1912.0,1204.2" stroke="#000000"/>
<path d="M363.8,1274.9 L366.5,1273.3 L369.1,1271.7 L371.6,1270.0 L374.1,1268.3 L376.5,1266.5 L378.8,1264.6 L381.1,1262.7 L383.3,1260.7 L385.5,1258.6 L387.6,1256.5 L389.6,1254.4 L391.6,1252.2 L393.6,1249.9 L395.5,1247.6 L397.4,1245.3 L399.2,1242.9 L401.0,1240.5 L402.7,1238.1 L404.4,1235.6 L406.0,1233.1 L407.7,1230.6 L409.3,1228.0 L410.8,1225.4 L412.3,1222.8 L413.8,1220.2 L415.3,1217.6 L416.7,1214.9 L418.2,1212.3 L419.6,1209.6 L420.9,1206.9 L422.3,1204.3 L423.6,1201.6 L424.9,1198.9 L426.2,1196.2 L427.5,1193.5 L428.8,1190.7 L430.0,1188.0 L431.2,1185.3 L432.4,1182.5 L433.6,1179.8 L434.8,1177.0 L435.9,1174.2 L437.0,1171.5 L438.1,1168.7 L439.2,1165.9 L440.3,1163.1 L441.4,1160.3 L442.4,1157.5 L443.5,1154.7 L444.5,1151.9 L445.5,1149.1 L446.5,1146.2 L447.4,1143.4 L448.4,1140.6 L449.4,1137.7 L450.3,1134.9 L451.2,1132.0 L452.1,1129.2 L453.0,1126.3 L453.9,1123.5 L454.8,1120.6 L455.7,1117.7 L456.5,1114.9 L457.4,1112.0 L458.2,1109.1 L459.0,1106.2 L459.8,1103.3 L460.6,1100.4 L461.4,1097.5 L462.2,1094.7 L463.0,1091.8 L463.8,1088.9 L464.6,1086.0 L465.3,1083.0 L466.1,1080.1 L466.8,1077.2 L467.6,1074.3 L468.3,1071.4 L469.1,1068.5 L469.8,1065.6 L470.5,1062.7 L471.2,1059.7 L471.9,1056.8 L472.7,1053.9 L473.4,1051.0 L474.1,1048.1 L474.8,1045.2 L475.5,1042.2 L476.2,1039.3 L476.9,1036.4 L477.6,1033.5 L478.3,1030.5 L478.9,1027.6 L479.6,1024.7 L480.3,1021.8 L481.0,1018.9 L481.7,1015.9 L482.3,1013.0 L483.0,1010.1 L483.7,1007.2 L484.3,1004.2 L485.0,1001.3 L485.7,998.4 L486.3,995.5 L487.0,992.5 L487.6,989.6 L488.3,986.7 L488.9,983.7 L489.6,980.8 L490.2,977.9 L490.9,975.0 L491.5,972.0 L492.2,969.1 L492.8,966.2 L493.5,963.2 L494.1,960.3 L494.7,957.4 L495.4,954.4 L496.0,951.5 L496.6,948.6 L497.3,945.7 L497.9,942.7 L498.5,939.8 L499.1,936.9 L499.8,933.9 L500.4,931.0 L501.0,928.1 L501.6,925.1 L502.2,922.2 L502.8,919.3 L503.5,916.3 L504.1,913.4 L504.7,910.5 L505.3,907.5 L505.9,904.6 L506.5,901.7 L507.1,898.7 L507.7,895.8 L508.3,892.8 L509.0,889.9 L509.6,887.0 L510.2,884.0 L510.8,881.1 L511.4,878.2 L512.0,875.2 L512.6,872.3 L513.2,869.4 L513.8,866.4 L514.4,863.5 L515.0,860.6 L515.6,857.6 L516.2,854.7 L516.8,851.7 L517.4,848.8 L518.0,845.9 L518.6,842.9 L519.2,840.0 L519.8,837.1 L520.4,834.1 L521.0,831.2 L521.6,828.2 L522.2,825.3 L522.8,822.4 L523.4,819.4 L524.0,816.5 L524.6,813.6 L525.2,810.6 L525.8,807.7 L526.4,804.7 L527.0,801.8 L527.6,798.9 L528.2,795.9 L528.8,793.0 L529.4,790.1 L530.0,787.1 L530.6,784.2 L531.2,781.3 L531.9,778.3 L532.5,775.4 L533.1,772.4 L533.7,769.5 L534.3,766.6 L534.9,763.6 L535.5,760.7 L536.1,757.8 L536.8,754.8 L537.4,751.9 L538.0,749.0 L538.6,746.0 L539.2,743.1 L539.9,740.1 L540.5,737.2 L541.1,734.3 L541.7,731.3 L542.4,728.4 L543.0,725.5 L543.6,722.5 L544.2,719.6 L544.9,716.7 L545.5,713.7 L546.2,710.8 L546.8,707.9 L547.4,704.9 L548.1,702.0 L548.7,699.1 L549.4,696.1 L550.0,693.2 L550.7,690.3 L551.3,687.3 L552.0,684.4 L552.6,681.5 L553.3,678.6 L553.9,675.6 L554.6,672.7 L555.3,669.8 L555.9,666.8 L556.6,663.9 L557.3,661.0 L557.9,658.1 L558.6,655.1 L559.3,652.2 L559.9,649.3 L560.6,646.3 L561.3,643.4 L562.0,640.5 L562.7,637.6 L563.3,634.6 L564.0,631.7 L564.7,628.8 L565.4,625.9 L566.1,623.0 L566.8,620.0 L567.5,617.1 L568.2,614.2 L568.9,611.3 L569.6,608.4 L570.3,605.5 L571.0,602.5 L571.7,599.6 L572.4,596.7 L573.1,593.8 L573.8,590.9 L574.5,588.0 L575.2,585.1 L576.0,582.1 L576.7,579.2 L577.4,576.3 L578.1,573.4 L578.8,570.5 L579.6,567.6 L580.3,564.7 L581.0,561.8 L581.7,558.9 L582.5,556.0 L583.2,553.1 L584.0,550.2 L584.7,547.3 L585.4,544.4 L586.2,541.5 L586.9,538.6 L587.7,535.7 L588.4,532.8 L589.2,529.9 L589.9,527.0 L590.7,524.1 L591.4,521.3 L592.2,518.4 L593.0,515.5 L593.7,512.6 L594.5,509.7 L595.3,506.8 L596.2,503.9 L597.0,501.1 L597.9,498.2 L598.7,495.3 L599.6,492.4 L600.6,489.5 L601.5,486.7 L602.5,483.8 L603.4,480.9 L604.4,478.1 L605.5,475.3 L606.5,472.4 L607.6,469.6 L608.7,466.8 L609.8,464.0 L611.0,461.3 L612.2,458.5 L613.4,455.8 L614.7,453.0 L615.9,450.3 L617.3,447.7 L618.6,445.0 L620.0,442.4 L621.4,439.8 L622.8,437.2 L624.3,434.6 L625.8,432.1 L627.4,429.6 L629.0,427.2 L630.6,424.7 L632.2,422.2 L633.9,419.7 L635.6,417.1 L637.2,414.5 L638.9,411.8 L640.6,409.1 L642.4,406.5 L644.3,404.0 L646.3,401.7 L648.4,399.7 L650.7,398.1 L653.3,396.9 L656.0,396.3 L659.0,396.3 L662.0,396.8 L665.0,397.5 L667.9,398.5 L670.6,399.7 L673.2,401.0 L675.7,402.6 L678.0,404.3 L680.3,406.1 L682.4,408.1 L684.5,410.2 L686.4,412.4 L688.3,414.7 L690.2,417.0 L691.9,419.5 L693.7,421.9 L695.3,424.5 L697.0,427.0 L698.6,429.6 L700.2,432.1 L701.8,434.7 L703.3,437.3 L704.8,439.9 L706.3,442.5 L707.8,445.1 L709.3,447.7 L710.7,450.3 L712.1,452.9 L713.5,455.6 L714.9,458.2 L716.3,460.9 L717.7,463.5 L719.0,466.2 L720.3,468.8 L721.6,471.5 L722.9,474.2 L724.2,476.9 L725.5,479.6 L726.7,482.3 L728.0,485.0 L729.2,487.7 L730.5,490.4 L731.7,493.1 L732.9,495.8 L734.1,498.5 L735.3,501.3 L736.5,504.0 L737.7,506.7 L738.9,509.5 L740.1,512.2 L741.3,515.0 L742.4,517.7 L743.6,520.5 L744.7,523.3 L745.9,526.0 L747.0,528.8 L748.1,531.6 L749.3,534.3 L750.4,537.1 L751.5,539.9 L752.6,542.7 L753.7,545.5 L754.8,548.3 L755.9,551.0 L757.0,553.8 L758.0,556.6 L759.1,559.4 L760.2,562.2 L761.2,565.1 L762.3,567.9 L763.4,570.7 L764.4,573.5 L765.5,576.3 L766.5,579.1 L767.5,581.9 L768.6,584.8 L769.6,587.6 L770.6,590.4 L771.6,593.2 L772.6,596.1 L773.7,598.9 L774.7,601.7 L775.7,604.6 L776.7,607.4 L777.7,610.2 L778.7,613.1 L779.6,615.9 L780.6,618.8 L781.6,621.6 L782.6,624.4 L783.6,627.3 L784.6,630.1 L785.5,633.0 L786.5,635.8 L787.5,638.6 L788.5,641.5 L789.4,644.3 L790.4,647.2 L791.4,650.0 L792.3,652.9 L793.3,655.7 L794.2,658.6 L795.2,661.4 L796.2,664.2 L797.1,667.1 L798.1,669.9 L799.0,672.8 L800.0,675.6 L800.9,678.5 L801.9,681.3 L802.8,684.2 L803.8,687.0 L804.7,689.8 L805.7,692.7 L806.7,695.5 L807.6,698.4 L808.6,701.2 L809.5,704.0 L810.5,706.9 L811.4,709.7 L812.4,712.6 L813.3,715.4 L814.3,718.2 L815.3,721.1 L816.2,723.9 L817.2,726.7 L818.1,729.6 L819.1,732.4 L820.1,735.3 L821.0,738.1 L822.0,740.9 L823.0,743.7 L824.0,746.6 L824.9,749.4 L825.9,752.2 L826.9,755.1 L827.9,757.9 L828.9,760.7 L829.9,763.5 L830.9,766.4 L831.9,769.2 L832.9,772.0 L833.9,774.8 L834.9,777.6 L835.9,780.5 L836.9,783.3 L837.9,786.1 L838.9,788.9 L840.0,791.7 L841.0,794.5 L842.0,797.3 L843.0,800.2 L844.1,803.0 L845.1,805.8 L846.2,808.6 L847.2,811.4 L848.3,814.2 L849.4,817.0 L850.4,819.8 L851.5,822.6 L852.6,825.4 L853.7,828.2 L854.8,830.9 L855.9,833.7 L857.0,836.5 L858.1,839.3 L859.2,842.1 L860.3,844.9 L861.5,847.7 L862.6,850.4 L863.7,853.2 L864.9,856.0 L866.0,858.8 L867.2,861.5 L868.4,864.3 L869.5,867.1 L870.7,869.8 L871.9,872.6 L873.1,875.4 L874.3,878.1 L875.5,880.9 L876.7,883.6 L877.9,886.4 L879.2,889.1 L880.4,891.8 L881.6,894.6 L882.9,897.3 L884.2,900.0 L885.4,902.8 L886.7,905.5 L888.0,908.2 L889.3,910.9 L890.6,913.6 L891.9,916.3 L893.2,919.0 L894.5,921.7 L895.8,924.4 L897.2,927.1 L898.5,929.8 L899.9,932.5 L901.2,935.2 L902.6,937.8 L904.0,940.5 L905.4,943.2 L906.8,945.8 L908.2,948.5 L909.6,951.1 L911.0,953.7 L912.5,956.4 L913.9,959.0 L915.4,961.6 L916.8,964.2 L918.3,966.8 L919.8,969.4 L921.2,972.0 L922.7,974.6 L924.2,977.2 L925.8,979.8 L927.3,982.3 L928.8,984.9 L930.4,987.5 L931.9,990.0 L933.5,992.5 L935.0,995.1 L936.6,997.6 L938.2,1000.1 L939.8,1002.6 L941.4,1005.1 L943.1,1007.6 L944.7,1010.1 L946.3,1012.6 L948.0,1015.1 L949.7,1017.6 L951.3,1020.0 L953.0,1022.5 L954.7,1024.9 L956.4,1027.4 L958.2,1029.8 L959.9,1032.2 L961.7,1034.7 L963.4,1037.1 L965.2,1039.5 L967.0,1041.9 L968.8,1044.3 L970.6,1046.7 L972.4,1049.1 L974.3,1051.4 L976.1,1053.8 L978.0,1056.2 L979.8,1058.5 L981.7,1060.9 L983.6,1063.2 L985.6,1065.5 L987.5,1067.9 L989.4,1070.2 L991.4,1072.5 L993.4,1074.8 L995.4,1077.0 L997.4,1079.3 L999.4,1081.6 L1001.4,1083.8 L1003.5,1086.0 L1005.5,1088.2 L1007.6,1090.4 L1009.7,1092.6 L1011.8,1094.8 L1013.9,1096.9 L1016.1,1099.0 L1018.2,1101.2 L1020.4,1103.3 L1022.6,1105.3 L1024.8,1107.4 L1027.0,1109.4 L1029.2,1111.5 L1031.5,1113.4 L1033.7,1115.4 L1036.0,1117.4 L1038.3,1119.3 L1040.6,1121.2 L1042.9,1123.1 L1045.3,1125.0 L1047.7,1126.8 L1050.0,1128.6 L1052.4,1130.4 L1054.8,1132.2 L1057.3,1133.9 L1059.7,1135.6 L1062.2,1137.3 L1064.7,1138.9 L1067.2,1140.6 L1069.7,1142.2 L1072.2,1143.7 L1074.8,1145.2 L1077.4,1146.8 L1080.0,1148.2 L1082.6,1149.7 L1085.2,1151.1 L1087.8,1152.4 L1090.5,1153.8 L1093.2,1155.1 L1095.9,1156.4 L1098.6,1157.7 L1101.3,1158.9 L1104.0,1160.1 L1106.8,1161.3 L1109.5,1162.5 L1112.3,1163.7 L1115.1,1164.8 L1117.9,1165.9 L1120.7,1167.0 L1123.5,1168.1 L1126.3,1169.2 L1129.1,1170.2 L1131.9,1171.3 L1134.7,1172.3 L1137.5,1173.3 L1140.4,1174.3 L1143.2,1175.3 L1146.0,1176.3 L1148.9,1177.3 L1151.7,1178.3 L1154.5,1179.2 L1157.4,1180.2 L1160.2,1181.2 L1163.0,1182.1 L1165.8,1183.1 L1168.7,1184.1 L1171.5,1185.0 L1174.3,1185.9 L1177.2,1186.9 L1180.0,1187.7 L1182.8,1188.6 L1185.7,1189.5 L1188.6,1190.3 L1191.4,1191.1 L1194.3,1191.9 L1197.2,1192.6 L1200.1,1193.3 L1203.0,1194.0 L1206.0,1194.7 L1208.9,1195.3 L1211.9,1195.9 L1214.8,1196.5 L1217.8,1197.1 L1220.7,1197.6 L1223.7,1198.1 L1226.7,1198.6 L1229.7,1199.1 L1232.6,1199.5 L1235.6,1200.0 L1238.6,1200.4 L1241.6,1200.8 L1244.6,1201.2 L1247.6,1201.5 L1250.6,1201.9 L1253.6,1202.2 L1256.6,1202.6 L1259.5,1202.9 L1262.5,1203.1 L1265.5,1203.4 L1268.5,1203.7 L1271.5,1203.9 L1274.5,1204.2 L1277.5,1204.4 L1280.5,1204.6 L1283.5,1204.8 L1286.5,1204.9 L1289.5,1205.1 L1292.5,1205.3 L1295.5,1205.4 L1298.4,1205.5 L1301.4,1205.6 L1304.4,1205.7 L1307.4,1205.8 L1310.4,1205.9 L1313.4,1206.0 L1316.4,1206.0 L1319.4,1206.1 L1322.4,1206.1 L1325.4,1206.1 L1328.4,1206.1 L1331.4,1206.1 L1334.4,1206.1 L1337.4,1206.1 L1340.4,1206.1 L1343.4,1206.1 L1346.4,1206.0 L1349.4,1206.0 L1352.4,1205.9 L1355.4,1205.8 L1358.3,1205.8 L1361.3,1205.7 L1364.3,1205.6 L1367.3,1205.5 L1370.3,1205.4 L1373.3,1205.3 L1376.3,1205.1 L1379.3,1205.0 L1382.3,1204.9 L1385.3,1204.7 L1388.3,1204.6 L1391.3,1204.4 L1394.3,1204.3 L1397.3,1204.1 L1400.3,1204.0 L1403.3,1203.8 L1406.3,1203.6 L1409.3,1203.4 L1412.3,1203.3 L1415.3,1203.1 L1418.2,1202.9 L1421.2,1202.7 L1424.2,1202.5 L1427.2,1202.3 L1430.2,1202.1 L1433.2,1201.9 L1436.2,1201.7 L1439.2,1201.5 L1442.2,1201.3 L1445.2,1201.0 L1448.2,1200.8 L1451.2,1200.6 L1454.2,1200.4 L1457.2,1200.2 L1460.1,1200.0 L1463.1,1199.7 L1466.1,1199.5 L1469.1,1199.3 L1472.1,1199.1 L1475.1,1198.8 L1478.1,1198.6 L1481.1,1198.4 L1484.1,1198.2 L1487.1,1197.9 L1490.0,1197.7 L1493.0,1197.5 L1496.0,1197.2 L1499.0,1197.0 L1502.0,1196.8 L1505.0,1196.5 L1508.0,1196.3 L1511.0,1196.1 L1514.0,1195.8 L1516.9,1195.6 L1519.9,1195.4 L1522.9,1195.1 L1525.9,1194.9 L1528.9,1194.6 L1531.9,1194.4 L1534.9,1194.2 L1537.9,1193.9 L1540.8,1193.7 L1543.8,1193.5 L1546.8,1193.2 L1549.8,1193.0 L1552.8,1192.7 L1555.8,1192.5 L1558.8,1192.3 L1561.8,1192.0 L1564.7,1191.8 L1567.7,1191.5 L1570.7,1191.3 L1573.7,1191.0 L1576.7,1190.8 L1579.7,1190.6 L1582.7,1190.3 L1585.7,1190.1 L1588.7,1189.8 L1591.6,1189.6 L1594.6,1189.4 L1597.6,1189.1 L1600.6,1188.9 L1603.6,1188.7 L1606.6,1188.4 L1609.6,1188.2 L1612.6,1187.9 L1615.5,1187.7 L1618.5,1187.5 L1621.5,1187.2 L1624.5,1187.0 L1627.5,1186.8 L1630.5,1186.5 L1633.5,1186.3 L1636.5,1186.1 L1639.5,1185.8 L1642.5,1185.6 L1645.4,1185.4 L1648.4,1185.2 L1651.4,1184.9 L1654.4,1184.7 L1657.4,1184.5 L1660.4,1184.3 L1663.4,1184.0 L1666.4,1183.8 L1669.4,1183.6 L1672.4,1183.4 L1675.4,1183.2 L1678.4,1182.9 L1681.4,1182.7 L1684.3,1182.5 L1687.3,1182.3 L1690.3,1182.1 L1693.3,1181.9 L1696.3,1181.7 L1699.3,1181.5 L1702.3,1181.3 L1705.3,1181.1 L1708.3,1180.9 L1711.3,1180.7 L1714.3,1180.5 L1717.3,1180.3 L1720.3,1180.1 L1723.3,1179.9 L1726.3,1179.8 L1729.3,1179.6 L1732.3,1179.4 L1735.3,1179.3 L1738.3,1179.1 L1741.3,1178.9 L1744.3,1178.8 L1747.3,1178.6 L1750.3,1178.5 L1753.3,1178.3 L1756.3,1178.2 L1759.3,1178.1 L1762.3,1177.9 L1765.3,1177.8 L1768.2,1177.7 L1771.2,1177.6 L1774.2,1177.5 L1777.2,1177.4 L1780.2,1177.3 L1783.2,1177.2 L1786.2,1177.1 L1789.2,1177.0 L1792.2,1177.0 L1795.2,1176.9 L1798.2,1176.8 L1801.2,1176.8 L1804.2,1176.8 L1807.2,1176.7 L1810.2,1176.7 L1813.2,1176.7 L1816.2,1176.6 L1819.2,1176.6 L1822.2,1176.6 L1825.2,1176.6 L1828.2,1176.6 L1831.2,1176.7 L1834.2,1176.7 L1837.2,1176.7 L1840.2,1176.8 L1843.2,1176.8 L1846.2,1176.9 L1849.2,1177.0 L1852.2,1177.0 L1855.1,1177.1 L1858.1,1177.2 L1861.1,1177.3 L1864.1,1177.5 L1867.1,1177.6 L1870.1,1177.7 L1873.1,1177.9 L1876.1,1178.0 L1879.1,1178.2 L1882.1,1178.4 L1885.1,1178.5 L1888.1,1178.7 L1891.1,1178.9 L1894.1,1179.2 L1897.0,1179.4 L1900.0,1179.6 L1903.0,1179.9 L1906.0,1180.1 L1909.0,1180.4 L1912.0,1180.7" stroke="#ff0000"/>
<path d="M355.5,1275.2 L358.6,1274.0 L361.6,1272.8 L364.5,1271.4 L367.3,1269.9 L370.0,1268.4 L372.6,1266.8 L375.1,1265.0 L377.5,1263.2 L379.8,1261.3 L382.0,1259.4 L384.1,1257.3 L386.2,1255.2 L388.1,1253.1 L390.0,1250.8 L391.9,1248.6 L393.7,1246.2 L395.4,1243.8 L397.0,1241.4 L398.6,1238.9 L400.2,1236.4 L401.7,1233.8 L403.1,1231.2 L404.5,1228.6 L405.9,1225.9 L407.2,1223.2 L408.6,1220.5 L409.8,1217.8 L411.1,1215.1 L412.3,1212.3 L413.6,1209.6 L414.8,1206.8 L416.0,1204.0 L417.2,1201.3 L418.3,1198.5 L419.5,1195.7 L420.6,1192.9 L421.8,1190.1 L422.9,1187.4 L424.0,1184.6 L425.1,1181.8 L426.2,1179.0 L427.2,1176.2 L428.3,1173.4 L429.3,1170.5 L430.4,1167.7 L431.4,1164.9 L432.4,1162.1 L433.4,1159.3 L434.4,1156.4 L435.4,1153.6 L436.4,1150.8 L437.3,1147.9 L438.3,1145.1 L439.2,1142.2 L440.2,1139.4 L441.1,1136.5 L442.0,1133.7 L442.9,1130.8 L443.8,1128.0 L444.7,1125.1 L445.6,1122.2 L446.4,1119.4 L447.3,1116.5 L448.1,1113.6 L449.0,1110.8 L449.8,1107.9 L450.6,1105.0 L451.4,1102.1 L452.3,1099.2 L453.1,1096.4 L453.9,1093.5 L454.6,1090.6 L455.4,1087.7 L456.2,1084.8 L457.0,1081.9 L457.7,1079.0 L458.5,1076.1 L459.2,1073.2 L460.0,1070.3 L460.7,1067.4 L461.4,1064.5 L462.1,1061.6 L462.9,1058.6 L463.6,1055.7 L464.3,1052.8 L465.0,1049.9 L465.7,1047.0 L466.4,1044.1 L467.1,1041.1 L467.7,1038.2 L468.4,1035.3 L469.1,1032.4 L469.8,1029.5 L470.4,1026.5 L471.1,1023.6 L471.7,1020.7 L472.4,1017.8 L473.1,1014.8 L473.7,1011.9 L474.3,1009.0 L475.0,1006.0 L475.6,1003.1 L476.3,1000.2 L476.9,997.2 L477.5,994.3 L478.2,991.4 L478.8,988.4 L479.4,985.5 L480.0,982.6 L480.6,979.6 L481.3,976.7 L481.9,973.8 L482.5,970.8 L483.1,967.9 L483.7,964.9 L484.3,962.0 L484.9,959.1 L485.5,956.1 L486.1,953.2 L486.7,950.2 L487.3,947.3 L487.9,944.4 L488.5,941.4 L489.1,938.5 L489.7,935.5 L490.3,932.6 L490.8,929.7 L491.4,926.7 L492.0,923.8 L492.6,920.8 L493.2,917.9 L493.7,914.9 L494.3,912.0 L494.9,909.0 L495.4,906.1 L496.0,903.2 L496.6,900.2 L497.2,897.3 L497.7,894.3 L498.3,891.4 L498.8,888.4 L499.4,885.5 L500.0,882.5 L500.5,879.6 L501.1,876.6 L501.7,873.7 L502.2,870.7 L502.8,867.8 L503.3,864.8 L503.9,861.9 L504.4,858.9 L505.0,856.0 L505.5,853.0 L506.1,850.1 L506.6,847.1 L507.2,844.2 L507.7,841.2 L508.3,838.3 L508.8,835.3 L509.4,832.4 L509.9,829.4 L510.5,826.5 L511.0,823.5 L511.6,820.6 L512.1,817.6 L512.7,814.7 L513.2,811.7 L513.8,808.8 L514.3,805.8 L514.9,802.9 L515.4,800.0 L516.0,797.0 L516.5,794.1 L517.0,791.1 L517.6,788.2 L518.1,785.2 L518.7,782.3 L519.2,779.3 L519.8,776.4 L520.3,773.4 L520.9,770.5 L521.4,767.5 L522.0,764.6 L522.5,761.6 L523.1,758.7 L523.6,755.7 L524.2,752.8 L524.7,749.8 L525.3,746.9 L525.8,743.9 L526.4,741.0 L526.9,738.0 L527.5,735.1 L528.1,732.2 L528.6,729.2 L529.2,726.3 L529.7,723.3 L530.3,720.4 L530.9,717.4 L531.4,714.5 L532.0,711.5 L532.6,708.6 L533.1,705.7 L533.7,702.7 L534.3,699.8 L534.8,696.8 L535.4,693.9 L536.0,691.0 L536.6,688.0 L537.1,685.1 L537.7,682.1 L538.3,679.2 L538.9,676.3 L539.5,673.3 L540.0,670.4 L540.6,667.4 L541.2,664.5 L541.8,661.6 L542.4,658.6 L543.0,655.7 L543.6,652.8 L544.2,649.8 L544.8,646.9 L545.4,644.0 L546.0,641.0 L546.6,638.1 L547.2,635.2 L547.8,632.2 L548.4,629.3 L549.1,626.4 L549.7,623.5 L550.3,620.5 L550.9,617.6 L551.5,614.7 L552.2,611.7 L552.8,608.8 L553.4,605.9 L554.1,603.0 L554.7,600.0 L555.4,597.1 L556.0,594.2 L556.7,591.3 L557.3,588.4 L558.0,585.4 L558.6,582.5 L559.3,579.6 L560.0,576.7 L560.6,573.8 L561.3,570.9 L562.0,567.9 L562.7,565.0 L563.4,562.1 L564.1,559.2 L564.8,556.3 L565.5,553.4 L566.2,550.5 L566.9,547.6 L567.6,544.7 L568.4,541.7 L569.1,538.8 L569.8,535.9 L570.6,533.0 L571.3,530.1 L572.1,527.2 L572.8,524.3 L573.6,521.4 L574.4,518.5 L575.2,515.6 L575.9,512.7 L576.7,509.8 L577.5,506.9 L578.4,504.0 L579.2,501.1 L580.0,498.3 L580.8,495.4 L581.7,492.5 L582.5,489.6 L583.4,486.7 L584.2,483.8 L585.1,480.9 L586.0,478.0 L586.8,475.1 L587.7,472.3 L588.6,469.4 L589.6,466.5 L590.5,463.6 L591.4,460.8 L592.4,457.9 L593.4,455.1 L594.4,452.2 L595.4,449.4 L596.4,446.6 L597.5,443.7 L598.5,440.9 L599.6,438.2 L600.8,435.4 L601.9,432.6 L603.1,429.9 L604.3,427.2 L605.6,424.5 L606.9,421.8 L608.2,419.1 L609.5,416.4 L610.9,413.8 L612.3,411.2 L613.8,408.6 L615.3,406.1 L616.8,403.5 L618.4,401.0 L620.1,398.6 L621.7,396.1 L623.5,393.8 L625.5,391.7 L627.6,389.8 L629.9,388.3 L632.5,387.2 L635.4,386.5 L638.6,386.5 L642.1,387.0 L645.6,388.0 L648.6,389.4 L650.9,391.2 L652.9,393.1 L654.8,395.2 L656.8,397.2 L659.0,399.1 L661.2,401.1 L663.5,403.1 L665.8,405.2 L668.1,407.2 L670.3,409.4 L672.3,411.6 L674.3,413.9 L676.1,416.3 L677.7,418.7 L679.3,421.3 L680.7,423.9 L682.1,426.5 L683.4,429.2 L684.7,431.9 L685.9,434.6 L687.2,437.3 L688.4,440.0 L689.6,442.7 L690.9,445.5 L692.0,448.2 L693.2,451.0 L694.4,453.7 L695.5,456.5 L696.7,459.2 L697.8,462.0 L698.9,464.8 L700.0,467.6 L701.1,470.4 L702.2,473.2 L703.3,475.9 L704.4,478.7 L705.4,481.6 L706.5,484.4 L707.5,487.2 L708.6,490.0 L709.6,492.8 L710.6,495.6 L711.7,498.5 L712.7,501.3 L713.7,504.1 L714.7,506.9 L715.7,509.8 L716.7,512.6 L717.7,515.4 L718.7,518.3 L719.7,521.1 L720.7,523.9 L721.7,526.8 L722.6,529.6 L723.6,532.4 L724.6,535.3 L725.6,538.1 L726.5,541.0 L727.5,543.8 L728.5,546.6 L729.4,549.5 L730.4,552.3 L731.4,555.2 L732.3,558.0 L733.3,560.9 L734.2,563.7 L735.2,566.5 L736.1,569.4 L737.1,572.2 L738.0,575.1 L739.0,577.9 L739.9,580.8 L740.8,583.6 L741.8,586.5 L742.7,589.3 L743.6,592.2 L744.6,595.0 L745.5,597.9 L746.4,600.7 L747.3,603.6 L748.2,606.5 L749.2,609.3 L750.1,612.2 L751.0,615.0 L751.9,617.9 L752.8,620.7 L753.7,623.6 L754.6,626.5 L755.5,629.3 L756.4,632.2 L757.3,635.0 L758.2,637.9 L759.1,640.7 L760.0,643.6 L760.8,646.5 L761.7,649.3 L762.6,652.2 L763.5,655.1 L764.4,657.9 L765.3,660.8 L766.1,663.7 L767.0,666.5 L767.9,669.4 L768.7,672.2 L769.6,675.1 L770.5,678.0 L771.3,680.8 L772.2,683.7 L773.1,686.6 L773.9,689.5 L774.8,692.3 L775.6,695.2 L776.5,698.1 L777.3,700.9 L778.2,703.8 L779.1,706.7 L779.9,709.5 L780.8,712.4 L781.6,715.3 L782.5,718.2 L783.3,721.0 L784.2,723.9 L785.0,726.8 L785.9,729.6 L786.7,732.5 L787.6,735.4 L788.4,738.3 L789.3,741.1 L790.1,744.0 L791.0,746.9 L791.8,749.8 L792.7,752.6 L793.5,755.5 L794.4,758.4 L795.2,761.3 L796.1,764.1 L796.9,767.0 L797.8,769.9 L798.6,772.8 L799.5,775.6 L800.3,778.5 L801.2,781.4 L802.1,784.2 L802.9,787.1 L803.8,790.0 L804.6,792.9 L805.5,795.7 L806.4,798.6 L807.2,801.5 L808.1,804.4 L809.0,807.2 L809.9,810.1 L810.7,813.0 L811.6,815.9 L812.5,818.7 L813.4,821.6 L814.3,824.5 L815.1,827.4 L816.0,830.2 L816.9,833.1 L817.8,836.0 L818.7,838.9 L819.6,841.7 L820.5,844.6 L821.4,847.5 L822.3,850.4 L823.2,853.2 L824.2,856.1 L825.1,859.0 L826.0,861.8 L826.9,864.7 L827.8,867.6 L828.8,870.4 L829.7,873.3 L830.7,876.2 L831.6,879.0 L832.6,881.9 L833.6,884.7 L834.6,887.6 L835.5,890.4 L836.5,893.2 L837.6,896.1 L838.6,898.9 L839.6,901.7 L840.6,904.5 L841.7,907.3 L842.8,910.1 L843.9,912.9 L844.9,915.7 L846.1,918.4 L847.2,921.2 L848.3,924.0 L849.5,926.7 L850.6,929.4 L851.8,932.1 L853.0,934.9 L854.2,937.6 L855.5,940.2 L856.7,942.9 L858.0,945.6 L859.3,948.3 L860.5,951.0 L861.8,953.6 L863.1,956.3 L864.4,958.9 L865.7,961.6 L867.1,964.3 L868.4,966.9 L869.7,969.6 L871.0,972.3 L872.4,974.9 L873.7,977.6 L875.1,980.3 L876.4,983.0 L877.8,985.6 L879.2,988.3 L880.5,991.0 L881.9,993.7 L883.3,996.3 L884.7,999.0 L886.1,1001.7 L887.5,1004.3 L888.9,1007.0 L890.3,1009.7 L891.7,1012.3 L893.2,1015.0 L894.6,1017.6 L896.1,1020.3 L897.6,1022.9 L899.0,1025.6 L900.5,1028.2 L902.0,1030.8 L903.5,1033.4 L905.1,1036.0 L906.6,1038.6 L908.2,1041.2 L909.7,1043.8 L911.3,1046.4 L912.9,1049.0 L914.5,1051.5 L916.1,1054.1 L917.7,1056.6 L919.4,1059.1 L921.0,1061.6 L922.7,1064.1 L924.4,1066.6 L926.1,1069.1 L927.8,1071.5 L929.6,1074.0 L931.3,1076.4 L933.1,1078.8 L934.9,1081.2 L936.7,1083.6 L938.6,1086.0 L940.4,1088.3 L942.3,1090.6 L944.2,1093.0 L946.1,1095.3 L948.0,1097.5 L949.9,1099.8 L951.9,1102.0 L953.9,1104.3 L955.9,1106.5 L957.9,1108.6 L960.0,1110.8 L962.1,1112.9 L964.2,1115.0 L966.3,1117.1 L968.5,1119.2 L970.6,1121.2 L972.8,1123.3 L975.0,1125.3 L977.3,1127.2 L979.5,1129.2 L981.8,1131.1 L984.1,1133.0 L986.4,1134.9 L988.8,1136.8 L991.1,1138.6 L993.5,1140.4 L995.9,1142.2 L998.3,1144.0 L1000.8,1145.7 L1003.2,1147.4 L1005.7,1149.1 L1008.2,1150.8 L1010.7,1152.5 L1013.2,1154.1 L1015.8,1155.7 L1018.3,1157.3 L1020.9,1158.8 L1023.5,1160.4 L1026.1,1161.9 L1028.7,1163.3 L1031.3,1164.8 L1034.0,1166.2 L1036.6,1167.7 L1039.3,1169.0 L1042.0,1170.4 L1044.7,1171.8 L1047.4,1173.1 L1050.1,1174.4 L1052.8,1175.6 L1055.6,1176.9 L1058.3,1178.1 L1061.1,1179.3 L1063.8,1180.5 L1066.6,1181.6 L1069.4,1182.8 L1072.2,1183.9 L1075.0,1184.9 L1077.8,1186.0 L1080.6,1187.0 L1083.4,1188.0 L1086.2,1189.0 L1089.1,1190.0 L1091.9,1190.9 L1094.8,1191.8 L1097.6,1192.7 L1100.5,1193.6 L1103.4,1194.5 L1106.2,1195.3 L1109.1,1196.1 L1112.0,1196.9 L1114.9,1197.7 L1117.8,1198.4 L1120.7,1199.1 L1123.6,1199.8 L1126.5,1200.5 L1129.5,1201.2 L1132.4,1201.8 L1135.3,1202.5 L1138.2,1203.1 L1141.2,1203.7 L1144.1,1204.3 L1147.1,1204.8 L1150.0,1205.4 L1153.0,1205.9 L1155.9,1206.4 L1158.9,1206.9 L1161.9,1207.3 L1164.8,1207.8 L1167.8,1208.2 L1170.8,1208.6 L1173.8,1209.0 L1176.8,1209.4 L1179.7,1209.8 L1182.7,1210.2 L1185.7,1210.5 L1188.7,1210.8 L1191.7,1211.1 L1194.7,1211.4 L1197.7,1211.7 L1200.7,1212.0 L1203.7,1212.3 L1206.7,1212.5 L1209.7,1212.7 L1212.7,1212.9 L1215.7,1213.1 L1218.7,1213.3 L1221.7,1213.5 L1224.7,1213.7 L1227.7,1213.8 L1230.7,1214.0 L1233.7,1214.1 L1236.7,1214.2 L1239.7,1214.3 L1242.7,1214.4 L1245.7,1214.5 L1248.7,1214.6 L1251.7,1214.7 L1254.7,1214.7 L1257.7,1214.8 L1260.7,1214.8 L1263.7,1214.8 L1266.7,1214.9 L1269.7,1214.9 L1272.7,1214.9 L1275.7,1214.9 L1278.7,1214.8 L1281.7,1214.8 L1284.7,1214.8 L1287.7,1214.7 L1290.7,1214.7 L1293.7,1214.6 L1296.7,1214.5 L1299.7,1214.5 L1302.7,1214.4 L1305.7,1214.3 L1308.7,1214.2 L1311.7,1214.1 L1314.6,1213.9 L1317.6,1213.8 L1320.6,1213.7 L1323.6,1213.5 L1326.6,1213.4 L1329.6,1213.2 L1332.6,1213.1 L1335.6,1212.9 L1338.5,1212.7 L1341.5,1212.5 L1344.5,1212.3 L1347.5,1212.2 L1350.5,1212.0 L1353.5,1211.7 L1356.5,1211.5 L1359.4,1211.3 L1362.4,1211.1 L1365.4,1210.9 L1368.4,1210.6 L1371.4,1210.4 L1374.4,1210.1 L1377.3,1209.9 L1380.3,1209.6 L1383.3,1209.4 L1386.3,1209.1 L1389.3,1208.8 L1392.3,1208.5 L1395.2,1208.3 L1398.2,1208.0 L1401.2,1207.7 L1404.2,1207.4 L1407.2,1207.1 L1410.1,1206.8 L1413.1,1206.5 L1416.1,1206.2 L1419.1,1205.9 L1422.1,1205.6 L1425.0,1205.2 L1428.0,1204.9 L1431.0,1204.6 L1434.0,1204.3 L1437.0,1203.9 L1439.9,1203.6 L1442.9,1203.3 L1445.9,1202.9 L1448.9,1202.6 L1451.9,1202.2 L1454.8,1201.9 L1457.8,1201.6 L1460.8,1201.2 L1463.8,1200.9 L1466.8,1200.5 L1469.7,1200.2 L1472.7,1199.8 L1475.7,1199.5 L1478.7,1199.1 L1481.7,1198.8 L1484.6,1198.4 L1487.6,1198.0 L1490.6,1197.7 L1493.6,1197.3 L1496.6,1197.0 L1499.5,1196.6 L1502.5,1196.3 L1505.5,1195.9 L1508.5,1195.5 L1511.5,1195.2 L1514.4,1194.8 L1517.4,1194.5 L1520.4,1194.1 L1523.4,1193.8 L1526.4,1193.4 L1529.4,1193.1 L1532.3,1192.7 L1535.3,1192.4 L1538.3,1192.0 L1541.3,1191.7 L1544.3,1191.3 L1547.2,1191.0 L1550.2,1190.6 L1553.2,1190.3 L1556.2,1189.9 L1559.2,1189.6 L1562.2,1189.2 L1565.1,1188.9 L1568.1,1188.6 L1571.1,1188.2 L1574.1,1187.9 L1577.1,1187.6 L1580.1,1187.3 L1583.1,1186.9 L1586.0,1186.6 L1589.0,1186.3 L1592.0,1186.0 L1595.0,1185.7 L1598.0,1185.3 L1601.0,1185.0 L1604.0,1184.7 L1606.9,1184.4 L1609.9,1184.1 L1612.9,1183.8 L1615.9,1183.5 L1618.9,1183.3 L1621.9,1183.0 L1624.9,1182.7 L1627.8,1182.4 L1630.8,1182.1 L1633.8,1181.9 L1636.8,1181.6 L1639.8,1181.3 L1642.8,1181.1 L1645.8,1180.8 L1648.8,1180.6 L1651.7,1180.3 L1654.7,1180.1 L1657.7,1179.8 L1660.7,1179.6 L1663.7,1179.4 L1666.7,1179.2 L1669.7,1179.0 L1672.7,1178.7 L1675.6,1178.5 L1678.6,1178.3 L1681.6,1178.1 L1684.6,1177.9 L1687.6,1177.8 L1690.6,1177.6 L1693.6,1177.4 L1696.6,1177.2 L1699.6,1177.1 L1702.6,1176.9 L1705.5,1176.8 L1708.5,1176.6 L1711.5,1176.5 L1714.5,1176.4 L1717.5,1176.2 L1720.5,1176.1 L1723.5,1176.0 L1726.5,1175.9 L1729.5,1175.8 L1732.5,1175.7 L1735.4,1175.6 L1738.4,1175.5 L1741.4,1175.5 L1744.4,1175.4 L1747.4,1175.3 L1750.4,1175.3 L1753.4,1175.2 L1756.4,1175.2 L1759.4,1175.2 L1762.4,1175.2 L1765.4,1175.1 L1768.4,1175.1 L1771.3,1175.1 L1774.3,1175.2 L1777.3,1175.2 L1780.3,1175.2 L1783.3,1175.2 L1786.3,1175.3 L1789.3,1175.3 L1792.3,1175.4 L1795.3,1175.5 L1798.3,1175.6 L1801.3,1175.6 L1804.3,1175.7 L1807.3,1175.8 L1810.3,1176.0 L1813.2,1176.1 L1816.2,1176.2 L1819.2,1176.4 L1822.2,1176.5 L1825.2,1176.7 L1828.2,1176.8 L1831.2,1177.0 L1834.2,1177.2 L1837.2,1177.4 L1840.2,1177.6 L1843.2,1177.8 L1846.2,1178.1 L1849.2,1178.3 L1852.2,1178.6 L1855.2,1178.8 L1858.2,1179.1 L1861.2,1179.4 L1864.2,1179.7 L1867.2,1180.0 L1870.1,1180.3 L1873.1,1180.6 L1876.1,1181.0 L1879.1,1181.3 L1882.1,1181.7 L1885.1,1182.0 L1888.1,1182.4 L1891.1,1182.8 L1894.1,1183.2 L1897.1,1183.6 L1900.1,1184.1 L1903.1,1184.5 L1906.1,1185.0 L1909.1,1185.4 L1912.1,1185.9" stroke="#1b6edf"/>
</g>
<rect x="307.7" y="85" width="1604.6" height="1189.0" fill="none" stroke="#000" stroke-width="8.2"/>
<path d="M708.8,1274 V1248 M1110.0,1274 V1248 M1511.1,1274 V1248 M307.7,1075.8 H333.7 M307.7,877.7 H333.7 M307.7,679.5 H333.7 M307.7,481.3 H333.7 M307.7,283.2 H333.7" stroke="#000" stroke-width="8" fill="none"/>
<text transform="translate(307.7,1354.0) scale(0.973,1)" text-anchor="middle" font-size="69" >0.00</text>
<text transform="translate(708.8,1354.0) scale(0.973,1)" text-anchor="middle" font-size="69" >0.05</text>
<text transform="translate(1110.0,1354.0) scale(0.973,1)" text-anchor="middle" font-size="69" >0.10</text>
<text transform="translate(1511.1,1354.0) scale(0.973,1)" text-anchor="middle" font-size="69" >0.15</text>
<text transform="translate(1912.3,1354.0) scale(0.973,1)" text-anchor="middle" font-size="69" >0.20</text>
<text transform="translate(278.5,1295.0) scale(0.973,1)" text-anchor="end" font-size="69" >0</text>
<text transform="translate(278.5,1096.8) scale(0.973,1)" text-anchor="end" font-size="69" >2</text>
<text transform="translate(278.5,898.7) scale(0.973,1)" text-anchor="end" font-size="69" >4</text>
<text transform="translate(278.5,700.5) scale(0.973,1)" text-anchor="end" font-size="69" >6</text>
<text transform="translate(278.5,502.3) scale(0.973,1)" text-anchor="end" font-size="69" >8</text>
<text transform="translate(278.5,304.2) scale(0.973,1)" text-anchor="end" font-size="69" >10</text>
<text transform="translate(278.5,106.0) scale(0.973,1)" text-anchor="end" font-size="69" >12</text>
<text transform="translate(107,679.5) rotate(-90) scale(1,0.973)" text-anchor="middle" font-size="69">Count (<tspan font-weight="normal">×</tspan> 10<tspan font-size="47" dy="-28">4</tspan><tspan dy="28">)</tspan></text>
<text transform="translate(1109.5,1465.0) scale(0.973,1)" text-anchor="middle" font-size="69" >Atomic shear strain</text>
<path d="M1111,176 H1218" stroke="#000000" stroke-width="8" stroke-dasharray="22.2 19.2 24.3 19.2 22.2 60" fill="none"/>
<text transform="translate(1253.0,197.5) scale(0.973,1)" text-anchor="start" font-size="69" >strain = 0.10</text>
<text transform="translate(1664.0,197.5) scale(0.973,1)" text-anchor="start" font-size="69" >INPG</text>
<path d="M1111,261 H1218" stroke="#ff0000" stroke-width="8" stroke-dasharray="22.2 19.2 24.3 19.2 22.2 60" fill="none"/>
<text transform="translate(1253.0,282.5) scale(0.973,1)" text-anchor="start" font-size="69" >strain = 0.20</text>
<text transform="translate(1664.0,282.5) scale(0.973,1)" text-anchor="start" font-size="69" >INPG</text>
<path d="M1111,346.5 H1218" stroke="#1b6edf" stroke-width="8" stroke-dasharray="22.2 19.2 24.3 19.2 22.2 60" fill="none"/>
<text transform="translate(1253.0,368.0) scale(0.973,1)" text-anchor="start" font-size="69" >strain = 0.30</text>
<text transform="translate(1664.0,368.0) scale(0.973,1)" text-anchor="start" font-size="69" >INPG</text>
<path d="M1111,431 H1240" stroke="#000000" stroke-width="8" fill="none"/>
<text transform="translate(1253.0,452.5) scale(0.973,1)" text-anchor="start" font-size="69" >strain = 0.10</text>
<text transform="translate(1664.0,452.5) scale(0.973,1)" text-anchor="start" font-size="69" >ANPG</text>
<path d="M1111,516 H1240" stroke="#ff0000" stroke-width="8" fill="none"/>
<text transform="translate(1253.0,537.5) scale(0.973,1)" text-anchor="start" font-size="69" >strain = 0.20</text>
<text transform="translate(1664.0,537.5) scale(0.973,1)" text-anchor="start" font-size="69" >ANPG</text>
<path d="M1111,600.5 H1240" stroke="#1b6edf" stroke-width="8" fill="none"/>
<text transform="translate(1253.0,622.0) scale(0.973,1)" text-anchor="start" font-size="69" >strain = 0.30</text>
<text transform="translate(1664.0,622.0) scale(0.973,1)" text-anchor="start" font-size="69" >ANPG</text>
<clipPath id="c1500"><rect x="307.7" y="1585" width="1604.6" height="1189"/></clipPath>
<g clip-path="url(#c1500)" fill="none" stroke-width="8" stroke-linejoin="round">
<path d="M439.8,2773.9 L442.8,2773.8 L445.9,2773.8 L448.9,2773.7 L451.9,2773.7 L455.0,2773.6 L458.0,2773.5 L461.0,2773.5 L464.1,2773.4 L467.1,2773.4 L470.1,2773.3 L473.1,2773.3 L476.2,2773.2 L479.2,2773.2 L482.2,2773.1 L485.2,2773.1 L488.3,2773.0 L491.3,2773.0 L494.3,2772.9 L497.3,2772.9 L500.4,2772.8 L503.4,2772.8 L506.4,2772.8 L509.4,2772.7 L512.4,2772.7 L515.5,2772.6 L518.5,2772.6 L521.5,2772.5 L524.5,2772.5 L527.5,2772.5 L530.5,2772.4 L533.5,2772.4 L536.6,2772.3 L539.6,2772.3 L542.6,2772.3 L545.6,2772.2 L548.6,2772.2 L551.6,2772.2 L554.6,2772.1 L557.6,2772.1 L560.7,2772.0 L563.7,2772.0 L566.7,2772.0 L569.7,2771.9 L572.7,2771.9 L575.7,2771.9 L578.7,2771.8 L581.7,2771.8 L584.7,2771.8 L587.7,2771.7 L590.7,2771.7 L593.7,2771.7 L596.7,2771.6 L599.7,2771.6 L602.7,2771.6 L605.7,2771.5 L608.7,2771.5 L611.7,2771.5 L614.8,2771.4 L617.8,2771.4 L620.8,2771.4 L623.8,2771.3 L626.8,2771.3 L629.8,2771.3 L632.8,2771.2 L635.7,2771.2 L638.7,2771.2 L641.7,2771.1 L644.7,2771.1 L647.7,2771.1 L650.7,2771.0 L653.7,2771.0 L656.7,2771.0 L659.7,2770.9 L662.7,2770.9 L665.7,2770.9 L668.7,2770.8 L671.7,2770.8 L674.7,2770.8 L677.7,2770.7 L680.7,2770.7 L683.7,2770.7 L686.7,2770.6 L689.7,2770.6 L692.7,2770.6 L695.6,2770.5 L698.6,2770.5 L701.6,2770.5 L704.6,2770.4 L707.6,2770.4 L710.6,2770.3 L713.6,2770.3 L716.6,2770.3 L719.6,2770.2 L722.6,2770.2 L725.5,2770.2 L728.5,2770.1 L731.5,2770.1 L734.5,2770.0 L737.5,2770.0 L740.5,2770.0 L743.5,2769.9 L746.5,2769.9 L749.5,2769.8 L752.4,2769.8 L755.4,2769.8 L758.4,2769.7 L761.4,2769.7 L764.4,2769.6 L767.4,2769.6 L770.4,2769.5 L773.3,2769.5 L776.3,2769.4 L779.3,2769.4 L782.3,2769.3 L785.3,2769.3 L788.3,2769.2 L791.3,2769.2 L794.2,2769.1 L797.2,2769.1 L800.2,2769.0 L803.2,2769.0 L806.2,2768.9 L809.2,2768.9 L812.2,2768.8 L815.1,2768.8 L818.1,2768.7 L821.1,2768.7 L824.1,2768.6 L827.1,2768.5 L830.1,2768.5 L833.0,2768.4 L836.0,2768.4 L839.0,2768.3 L842.0,2768.2 L845.0,2768.2 L848.0,2768.1 L850.9,2768.1 L853.9,2768.0 L856.9,2767.9 L859.9,2767.8 L862.9,2767.8 L865.9,2767.7 L868.9,2767.6 L871.8,2767.6 L874.8,2767.5 L877.8,2767.4 L880.8,2767.3 L883.8,2767.3 L886.8,2767.2 L889.7,2767.1 L892.7,2767.0 L895.7,2767.0 L898.7,2766.9 L901.7,2766.8 L904.7,2766.7 L907.7,2766.6 L910.6,2766.5 L913.6,2766.4 L916.6,2766.4 L919.6,2766.3 L922.6,2766.2 L925.6,2766.1 L928.6,2766.0 L931.5,2765.9 L934.5,2765.8 L937.5,2765.7 L940.5,2765.6 L943.5,2765.5 L946.5,2765.4 L949.5,2765.3 L952.4,2765.2 L955.4,2765.1 L958.4,2765.0 L961.4,2764.9 L964.4,2764.8 L967.4,2764.7 L970.4,2764.5 L973.4,2764.4 L976.3,2764.3 L979.3,2764.2 L982.3,2764.1 L985.3,2764.0 L988.3,2763.8 L991.3,2763.7 L994.3,2763.6 L997.3,2763.5 L1000.3,2763.3 L1003.3,2763.2 L1006.2,2763.1 L1009.2,2762.9 L1012.2,2762.8 L1015.2,2762.7 L1018.2,2762.5 L1021.2,2762.4 L1024.2,2762.3 L1027.2,2762.1 L1030.2,2762.0 L1033.2,2761.8 L1036.2,2761.7 L1039.2,2761.5 L1042.2,2761.4 L1045.2,2761.2 L1048.2,2761.1 L1051.1,2760.9 L1054.1,2760.8 L1057.1,2760.6 L1060.1,2760.5 L1063.1,2760.3 L1066.1,2760.1 L1069.1,2760.0 L1072.1,2759.8 L1075.1,2759.6 L1078.1,2759.5 L1081.1,2759.3 L1084.1,2759.1 L1087.1,2758.9 L1090.1,2758.7 L1093.1,2758.6 L1096.1,2758.4 L1099.1,2758.2 L1102.1,2758.0 L1105.1,2757.8 L1108.1,2757.6 L1111.1,2757.4 L1114.2,2757.2 L1117.2,2757.0 L1120.2,2756.8 L1123.2,2756.6 L1126.2,2756.4 L1129.2,2756.2 L1132.2,2756.0 L1135.2,2755.8 L1138.2,2755.6 L1141.2,2755.4 L1144.2,2755.2 L1147.2,2755.0 L1150.2,2754.7 L1153.3,2754.5 L1156.3,2754.3 L1159.3,2754.1 L1162.3,2753.8 L1165.3,2753.6 L1168.3,2753.4 L1171.3,2753.1 L1174.3,2752.9 L1177.4,2752.6 L1180.4,2752.4 L1183.4,2752.2 L1186.4,2751.9 L1189.4,2751.7 L1192.4,2751.4 L1195.5,2751.1 L1198.5,2750.9 L1201.5,2750.6 L1204.5,2750.4 L1207.5,2750.1 L1210.5,2749.8 L1213.6,2749.5 L1216.6,2749.2 L1219.6,2748.9 L1222.6,2748.6 L1225.6,2748.3 L1228.6,2748.0 L1231.6,2747.7 L1234.7,2747.4 L1237.7,2747.0 L1240.7,2746.7 L1243.7,2746.3 L1246.7,2746.0 L1249.7,2745.6 L1252.7,2745.2 L1255.7,2744.8 L1258.7,2744.4 L1261.6,2744.0 L1264.6,2743.6 L1267.6,2743.2 L1270.6,2742.7 L1273.6,2742.3 L1276.6,2741.8 L1279.5,2741.3 L1282.5,2740.9 L1285.5,2740.4 L1288.4,2739.8 L1291.4,2739.3 L1294.3,2738.8 L1297.3,2738.2 L1300.2,2737.7 L1303.2,2737.1 L1306.1,2736.5 L1309.1,2735.9 L1312.0,2735.2 L1314.9,2734.6 L1317.8,2733.9 L1320.7,2733.3 L1323.6,2732.6 L1326.6,2731.9 L1329.5,2731.2 L1332.3,2730.4 L1335.2,2729.7 L1338.1,2728.9 L1341.0,2728.1 L1343.9,2727.3 L1346.7,2726.4 L1349.6,2725.6 L1352.4,2724.7 L1355.3,2723.8 L1358.1,2722.9 L1361.0,2722.0 L1363.8,2721.0 L1366.6,2720.1 L1369.4,2719.1 L1372.2,2718.1 L1375.0,2717.0 L1377.8,2716.0 L1380.6,2714.9 L1383.3,2713.8 L1386.1,2712.7 L1388.9,2711.6 L1391.6,2710.4 L1394.3,2709.2 L1397.1,2708.1 L1399.8,2706.8 L1402.5,2705.6 L1405.2,2704.3 L1407.9,2703.1 L1410.5,2701.8 L1413.2,2700.4 L1415.9,2699.1 L1418.5,2697.7 L1421.1,2696.3 L1423.7,2694.9 L1426.3,2693.5 L1428.9,2692.1 L1431.5,2690.6 L1434.1,2689.1 L1436.7,2687.6 L1439.2,2686.1 L1441.7,2684.5 L1444.2,2682.9 L1446.7,2681.3 L1449.2,2679.7 L1451.7,2678.1 L1454.2,2676.4 L1456.6,2674.7 L1459.0,2673.0 L1461.5,2671.3 L1463.9,2669.5 L1466.3,2667.8 L1468.6,2666.0 L1471.0,2664.2 L1473.3,2662.3 L1475.7,2660.5 L1478.0,2658.6 L1480.3,2656.8 L1482.6,2654.9 L1484.9,2653.0 L1487.1,2651.0 L1489.4,2649.1 L1491.6,2647.1 L1493.8,2645.1 L1496.0,2643.1 L1498.2,2641.1 L1500.4,2639.1 L1502.6,2637.1 L1504.7,2635.0 L1506.9,2633.0 L1509.0,2630.9 L1511.1,2628.8 L1513.2,2626.7 L1515.3,2624.6 L1517.4,2622.5 L1519.4,2620.3 L1521.5,2618.2 L1523.5,2616.0 L1525.5,2613.9 L1527.5,2611.7 L1529.5,2609.5 L1531.5,2607.3 L1533.5,2605.1 L1535.4,2602.8 L1537.4,2600.6 L1539.3,2598.4 L1541.2,2596.1 L1543.2,2593.8 L1545.1,2591.6 L1547.0,2589.3 L1548.8,2587.0 L1550.7,2584.7 L1552.6,2582.3 L1554.4,2580.0 L1556.2,2577.7 L1558.1,2575.3 L1559.9,2573.0 L1561.7,2570.6 L1563.5,2568.2 L1565.3,2565.9 L1567.0,2563.5 L1568.8,2561.1 L1570.6,2558.7 L1572.3,2556.3 L1574.1,2553.8 L1575.8,2551.4 L1577.5,2549.0 L1579.2,2546.5 L1580.9,2544.1 L1582.6,2541.6 L1584.3,2539.1 L1586.0,2536.6 L1587.7,2534.2 L1589.3,2531.7 L1591.0,2529.2 L1592.6,2526.7 L1594.3,2524.2 L1595.9,2521.6 L1597.5,2519.1 L1599.1,2516.6 L1600.7,2514.1 L1602.3,2511.5 L1603.9,2509.0 L1605.5,2506.4 L1607.1,2503.8 L1608.7,2501.3 L1610.3,2498.7 L1611.8,2496.1 L1613.4,2493.6 L1614.9,2491.0 L1616.5,2488.4 L1618.0,2485.8 L1619.6,2483.2 L1621.1,2480.6 L1622.6,2478.0 L1624.1,2475.4 L1625.6,2472.7 L1627.2,2470.1 L1628.7,2467.5 L1630.2,2464.9 L1631.7,2462.2 L1633.1,2459.6 L1634.6,2457.0 L1636.1,2454.3 L1637.6,2451.7 L1639.1,2449.0 L1640.5,2446.4 L1642.0,2443.7 L1643.5,2441.1 L1644.9,2438.4 L1646.4,2435.7 L1647.9,2433.1 L1649.3,2430.4 L1650.8,2427.8 L1652.2,2425.1 L1653.7,2422.4 L1655.1,2419.7 L1656.5,2417.1 L1658.0,2414.4 L1659.4,2411.7 L1660.9,2409.0 L1662.3,2406.4 L1663.7,2403.7 L1665.2,2401.0 L1666.6,2398.3 L1668.0,2395.6 L1669.4,2393.0 L1670.9,2390.3 L1672.3,2387.6 L1673.7,2384.9 L1675.1,2382.2 L1676.6,2379.6 L1678.0,2376.9 L1679.4,2374.2 L1680.8,2371.5 L1682.3,2368.8 L1683.7,2366.2 L1685.1,2363.5 L1686.6,2360.8 L1688.0,2358.1 L1689.4,2355.5 L1690.8,2352.8 L1692.3,2350.1 L1693.7,2347.5 L1695.1,2344.8 L1696.6,2342.1 L1698.0,2339.5 L1699.4,2336.8 L1700.9,2334.2 L1702.3,2331.5 L1703.8,2328.9 L1705.2,2326.2 L1706.7,2323.6 L1708.1,2320.9 L1709.6,2318.3 L1711.0,2315.7 L1712.5,2313.0 L1714.0,2310.4 L1715.4,2307.8 L1716.9,2305.2 L1718.4,2302.5 L1719.8,2299.9 L1721.3,2297.3 L1722.8,2294.7 L1724.3,2292.1 L1725.8,2289.5 L1727.3,2286.9 L1728.8,2284.3 L1730.3,2281.7 L1731.8,2279.1 L1733.3,2276.5 L1734.8,2274.0 L1736.3,2271.4 L1737.8,2268.8 L1739.3,2266.2 L1740.8,2263.7 L1742.3,2261.1 L1743.9,2258.5 L1745.4,2256.0 L1746.9,2253.4 L1748.5,2250.9 L1750.0,2248.3 L1751.5,2245.8 L1753.1,2243.2 L1754.6,2240.7 L1756.2,2238.1 L1757.7,2235.6 L1759.3,2233.1 L1760.9,2230.5 L1762.4,2228.0 L1764.0,2225.5 L1765.6,2222.9 L1767.1,2220.4 L1768.7,2217.9 L1770.3,2215.4 L1771.9,2212.9 L1773.5,2210.3 L1775.0,2207.8 L1776.6,2205.3 L1778.2,2202.8 L1779.8,2200.3 L1781.4,2197.8 L1783.0,2195.3 L1784.6,2192.8 L1786.3,2190.3 L1787.9,2187.8 L1789.5,2185.3 L1791.1,2182.8 L1792.7,2180.3 L1794.4,2177.8 L1796.0,2175.4 L1797.6,2172.9 L1799.3,2170.4 L1800.9,2167.9 L1802.5,2165.4 L1804.2,2163.0 L1805.8,2160.5 L1807.5,2158.0 L1809.1,2155.5 L1810.8,2153.1 L1812.5,2150.6 L1814.1,2148.1 L1815.8,2145.7 L1817.5,2143.2 L1819.2,2140.7 L1820.8,2138.3 L1822.5,2135.8 L1824.2,2133.4 L1825.9,2130.9 L1827.6,2128.5 L1829.3,2126.0 L1831.0,2123.5 L1832.7,2121.1 L1834.4,2118.6 L1836.1,2116.2 L1837.8,2113.7 L1839.5,2111.3 L1841.3,2108.8 L1843.0,2106.4 L1844.7,2104.0 L1846.4,2101.5 L1848.2,2099.1 L1849.9,2096.6 L1851.7,2094.2 L1853.4,2091.7 L1855.1,2089.3 L1856.9,2086.9 L1858.7,2084.4 L1860.4,2082.0 L1862.2,2079.6 L1863.9,2077.1 L1865.7,2074.7 L1867.5,2072.3 L1869.3,2069.8 L1871.0,2067.4 L1872.8,2065.0 L1874.6,2062.5 L1876.4,2060.1 L1878.2,2057.7 L1880.0,2055.2 L1881.8,2052.8 L1883.6,2050.4 L1885.4,2047.9 L1887.2,2045.5 L1889.0,2043.1 L1890.8,2040.6 L1892.6,2038.2 L1894.5,2035.8 L1896.3,2033.4 L1898.1,2030.9 L1900.0,2028.5 L1901.8,2026.1 L1903.6,2023.6 L1905.5,2021.2 L1907.3,2018.8 L1909.2,2016.4 L1911.0,2013.9 L1912.9,2011.5" stroke="#000000" stroke-dasharray="24 11.5"/>
<path d="M440.2,2775.0 L443.2,2774.8 L446.2,2774.6 L449.2,2774.4 L452.2,2774.2 L455.2,2774.0 L458.2,2773.8 L461.2,2773.6 L464.2,2773.5 L467.1,2773.3 L470.1,2773.1 L473.1,2773.0 L476.1,2772.8 L479.1,2772.7 L482.1,2772.5 L485.1,2772.4 L488.1,2772.2 L491.0,2772.1 L494.0,2772.0 L497.0,2771.8 L500.0,2771.7 L503.0,2771.6 L506.0,2771.4 L509.0,2771.3 L511.9,2771.2 L514.9,2771.1 L517.9,2771.0 L520.9,2770.9 L523.9,2770.7 L526.9,2770.6 L529.8,2770.5 L532.8,2770.4 L535.8,2770.3 L538.8,2770.2 L541.8,2770.2 L544.8,2770.1 L547.7,2770.0 L550.7,2769.9 L553.7,2769.8 L556.7,2769.7 L559.7,2769.6 L562.7,2769.6 L565.7,2769.5 L568.6,2769.4 L571.6,2769.3 L574.6,2769.3 L577.6,2769.2 L580.6,2769.1 L583.6,2769.1 L586.6,2769.0 L589.5,2768.9 L592.5,2768.9 L595.5,2768.8 L598.5,2768.7 L601.5,2768.7 L604.5,2768.6 L607.5,2768.6 L610.4,2768.5 L613.4,2768.4 L616.4,2768.4 L619.4,2768.3 L622.4,2768.3 L625.4,2768.2 L628.4,2768.2 L631.4,2768.1 L634.3,2768.1 L637.3,2768.0 L640.3,2768.0 L643.3,2767.9 L646.3,2767.9 L649.3,2767.8 L652.3,2767.8 L655.3,2767.7 L658.3,2767.6 L661.3,2767.6 L664.3,2767.5 L667.3,2767.5 L670.3,2767.4 L673.2,2767.4 L676.2,2767.3 L679.2,2767.3 L682.2,2767.2 L685.2,2767.2 L688.2,2767.1 L691.2,2767.1 L694.2,2767.0 L697.2,2767.0 L700.2,2766.9 L703.2,2766.8 L706.2,2766.8 L709.2,2766.7 L712.2,2766.7 L715.2,2766.6 L718.2,2766.5 L721.2,2766.5 L724.2,2766.4 L727.2,2766.3 L730.2,2766.3 L733.3,2766.2 L736.3,2766.1 L739.3,2766.0 L742.3,2766.0 L745.3,2765.9 L748.3,2765.8 L751.3,2765.7 L754.3,2765.6 L757.3,2765.5 L760.3,2765.5 L763.4,2765.4 L766.4,2765.3 L769.4,2765.2 L772.4,2765.1 L775.4,2765.0 L778.4,2764.9 L781.5,2764.8 L784.5,2764.7 L787.5,2764.6 L790.5,2764.4 L793.5,2764.3 L796.6,2764.2 L799.6,2764.1 L802.6,2764.0 L805.6,2763.8 L808.7,2763.7 L811.7,2763.6 L814.7,2763.4 L817.8,2763.3 L820.8,2763.2 L823.8,2763.0 L826.9,2762.9 L829.9,2762.7 L832.9,2762.6 L836.0,2762.4 L839.0,2762.2 L842.0,2762.1 L845.1,2761.9 L848.1,2761.7 L851.1,2761.5 L854.2,2761.3 L857.2,2761.1 L860.2,2760.9 L863.3,2760.7 L866.3,2760.5 L869.4,2760.3 L872.4,2760.1 L875.4,2759.8 L878.4,2759.6 L881.5,2759.3 L884.5,2759.1 L887.5,2758.8 L890.6,2758.5 L893.6,2758.2 L896.6,2758.0 L899.6,2757.6 L902.6,2757.3 L905.6,2757.0 L908.6,2756.7 L911.7,2756.3 L914.7,2756.0 L917.7,2755.6 L920.7,2755.2 L923.6,2754.8 L926.6,2754.4 L929.6,2754.0 L932.6,2753.6 L935.6,2753.2 L938.6,2752.7 L941.5,2752.2 L944.5,2751.8 L947.5,2751.3 L950.4,2750.8 L953.4,2750.2 L956.3,2749.7 L959.3,2749.2 L962.2,2748.6 L965.1,2748.0 L968.1,2747.4 L971.0,2746.8 L973.9,2746.2 L976.8,2745.5 L979.7,2744.9 L982.6,2744.2 L985.5,2743.5 L988.4,2742.8 L991.3,2742.1 L994.1,2741.3 L997.0,2740.6 L999.8,2739.8 L1002.7,2739.0 L1005.5,2738.2 L1008.4,2737.3 L1011.2,2736.5 L1014.0,2735.6 L1016.8,2734.7 L1019.6,2733.8 L1022.4,2732.9 L1025.2,2731.9 L1028.0,2731.0 L1030.8,2730.0 L1033.6,2729.0 L1036.3,2728.0 L1039.1,2727.0 L1041.9,2725.9 L1044.6,2724.9 L1047.4,2723.8 L1050.1,2722.7 L1052.8,2721.6 L1055.5,2720.5 L1058.3,2719.3 L1061.0,2718.2 L1063.7,2717.0 L1066.4,2715.8 L1069.1,2714.6 L1071.7,2713.4 L1074.4,2712.2 L1077.1,2711.0 L1079.8,2709.7 L1082.4,2708.4 L1085.1,2707.1 L1087.7,2705.8 L1090.4,2704.5 L1093.0,2703.2 L1095.6,2701.8 L1098.2,2700.5 L1100.9,2699.1 L1103.5,2697.7 L1106.1,2696.3 L1108.7,2694.9 L1111.3,2693.5 L1113.9,2692.1 L1116.5,2690.6 L1119.0,2689.2 L1121.6,2687.7 L1124.2,2686.2 L1126.8,2684.7 L1129.3,2683.2 L1131.9,2681.7 L1134.4,2680.2 L1137.0,2678.6 L1139.5,2677.1 L1142.0,2675.5 L1144.6,2674.0 L1147.1,2672.4 L1149.6,2670.8 L1152.1,2669.2 L1154.6,2667.6 L1157.1,2665.9 L1159.6,2664.3 L1162.1,2662.6 L1164.6,2661.0 L1167.1,2659.3 L1169.6,2657.6 L1172.1,2656.0 L1174.5,2654.3 L1177.0,2652.6 L1179.5,2650.9 L1181.9,2649.1 L1184.4,2647.4 L1186.8,2645.7 L1189.3,2643.9 L1191.7,2642.2 L1194.1,2640.4 L1196.6,2638.6 L1199.0,2636.9 L1201.4,2635.1 L1203.8,2633.3 L1206.3,2631.5 L1208.7,2629.7 L1211.1,2627.9 L1213.5,2626.0 L1215.9,2624.2 L1218.3,2622.4 L1220.7,2620.5 L1223.1,2618.7 L1225.4,2616.8 L1227.8,2615.0 L1230.2,2613.1 L1232.6,2611.2 L1235.0,2609.3 L1237.3,2607.5 L1239.7,2605.6 L1242.0,2603.7 L1244.4,2601.8 L1246.8,2599.9 L1249.1,2598.0 L1251.5,2596.1 L1253.8,2594.1 L1256.1,2592.2 L1258.5,2590.3 L1260.8,2588.4 L1263.1,2586.4 L1265.5,2584.5 L1267.8,2582.5 L1270.1,2580.6 L1272.4,2578.6 L1274.7,2576.7 L1277.1,2574.7 L1279.4,2572.8 L1281.7,2570.8 L1284.0,2568.8 L1286.3,2566.9 L1288.6,2564.9 L1290.9,2562.9 L1293.2,2561.0 L1295.5,2559.0 L1297.8,2557.0 L1300.1,2555.0 L1302.3,2553.0 L1304.6,2551.1 L1306.9,2549.1 L1309.2,2547.1 L1311.5,2545.1 L1313.7,2543.1 L1316.0,2541.1 L1318.3,2539.1 L1320.5,2537.1 L1322.8,2535.1 L1325.1,2533.2 L1327.3,2531.2 L1329.6,2529.2 L1331.8,2527.1 L1334.1,2525.1 L1336.3,2523.1 L1338.6,2521.1 L1340.8,2519.1 L1343.0,2517.1 L1345.3,2515.1 L1347.5,2513.1 L1349.7,2511.0 L1351.9,2509.0 L1354.2,2507.0 L1356.4,2505.0 L1358.6,2502.9 L1360.8,2500.9 L1363.0,2498.9 L1365.2,2496.8 L1367.4,2494.8 L1369.6,2492.7 L1371.8,2490.7 L1374.0,2488.7 L1376.2,2486.6 L1378.4,2484.5 L1380.6,2482.5 L1382.7,2480.4 L1384.9,2478.4 L1387.1,2476.3 L1389.2,2474.2 L1391.4,2472.1 L1393.5,2470.1 L1395.7,2468.0 L1397.9,2465.9 L1400.0,2463.8 L1402.1,2461.7 L1404.3,2459.6 L1406.4,2457.5 L1408.5,2455.4 L1410.7,2453.3 L1412.8,2451.2 L1414.9,2449.1 L1417.0,2447.0 L1419.1,2444.9 L1421.2,2442.8 L1423.3,2440.6 L1425.4,2438.5 L1427.5,2436.4 L1429.6,2434.2 L1431.7,2432.1 L1433.7,2429.9 L1435.8,2427.8 L1437.9,2425.6 L1439.9,2423.5 L1442.0,2421.3 L1444.0,2419.1 L1446.1,2417.0 L1448.1,2414.8 L1450.2,2412.6 L1452.2,2410.4 L1454.2,2408.2 L1456.2,2406.1 L1458.2,2403.9 L1460.3,2401.6 L1462.3,2399.4 L1464.3,2397.2 L1466.3,2395.0 L1468.3,2392.8 L1470.2,2390.6 L1472.2,2388.3 L1474.2,2386.1 L1476.2,2383.9 L1478.1,2381.6 L1480.1,2379.4 L1482.1,2377.1 L1484.0,2374.9 L1485.9,2372.6 L1487.9,2370.3 L1489.8,2368.1 L1491.8,2365.8 L1493.7,2363.5 L1495.6,2361.2 L1497.5,2359.0 L1499.5,2356.7 L1501.4,2354.4 L1503.3,2352.1 L1505.2,2349.8 L1507.1,2347.5 L1509.0,2345.2 L1510.8,2342.9 L1512.7,2340.5 L1514.6,2338.2 L1516.5,2335.9 L1518.4,2333.6 L1520.2,2331.2 L1522.1,2328.9 L1524.0,2326.6 L1525.8,2324.2 L1527.7,2321.9 L1529.5,2319.5 L1531.4,2317.2 L1533.2,2314.8 L1535.0,2312.5 L1536.9,2310.1 L1538.7,2307.7 L1540.5,2305.4 L1542.3,2303.0 L1544.1,2300.6 L1546.0,2298.3 L1547.8,2295.9 L1549.6,2293.5 L1551.4,2291.1 L1553.2,2288.7 L1555.0,2286.3 L1556.8,2283.9 L1558.6,2281.5 L1560.3,2279.1 L1562.1,2276.7 L1563.9,2274.3 L1565.7,2271.9 L1567.4,2269.5 L1569.2,2267.1 L1571.0,2264.7 L1572.7,2262.2 L1574.5,2259.8 L1576.3,2257.4 L1578.0,2255.0 L1579.8,2252.5 L1581.5,2250.1 L1583.2,2247.7 L1585.0,2245.2 L1586.7,2242.8 L1588.5,2240.3 L1590.2,2237.9 L1591.9,2235.4 L1593.6,2233.0 L1595.4,2230.5 L1597.1,2228.1 L1598.8,2225.6 L1600.5,2223.2 L1602.2,2220.7 L1603.9,2218.3 L1605.6,2215.8 L1607.3,2213.3 L1609.0,2210.9 L1610.7,2208.4 L1612.4,2205.9 L1614.1,2203.4 L1615.8,2201.0 L1617.5,2198.5 L1619.2,2196.0 L1620.9,2193.5 L1622.6,2191.0 L1624.2,2188.5 L1625.9,2186.1 L1627.6,2183.6 L1629.3,2181.1 L1630.9,2178.6 L1632.6,2176.1 L1634.3,2173.6 L1635.9,2171.1 L1637.6,2168.6 L1639.3,2166.1 L1640.9,2163.6 L1642.6,2161.1 L1644.2,2158.6 L1645.9,2156.1 L1647.5,2153.6 L1649.2,2151.1 L1650.8,2148.6 L1652.5,2146.1 L1654.1,2143.5 L1655.8,2141.0 L1657.4,2138.5 L1659.1,2136.0 L1660.7,2133.5 L1662.4,2131.0 L1664.0,2128.5 L1665.6,2125.9 L1667.3,2123.4 L1668.9,2120.9 L1670.5,2118.4 L1672.2,2115.9 L1673.8,2113.3 L1675.4,2110.8 L1677.1,2108.3 L1678.7,2105.8 L1680.3,2103.2 L1681.9,2100.7 L1683.6,2098.2 L1685.2,2095.6 L1686.8,2093.1 L1688.4,2090.6 L1690.1,2088.1 L1691.7,2085.5 L1693.3,2083.0 L1694.9,2080.5 L1696.5,2077.9 L1698.2,2075.4 L1699.8,2072.9 L1701.4,2070.3 L1703.0,2067.8 L1704.6,2065.3 L1706.2,2062.7 L1707.9,2060.2 L1709.5,2057.7 L1711.1,2055.1 L1712.7,2052.6 L1714.3,2050.1 L1715.9,2047.5 L1717.5,2045.0 L1719.2,2042.5 L1720.8,2039.9 L1722.4,2037.4 L1724.0,2034.9 L1725.6,2032.3 L1727.2,2029.8 L1728.9,2027.3 L1730.5,2024.7 L1732.1,2022.2 L1733.7,2019.7 L1735.3,2017.1 L1736.9,2014.6 L1738.6,2012.1 L1740.2,2009.5 L1741.8,2007.0 L1743.4,2004.5 L1745.0,2002.0 L1746.6,1999.4 L1748.3,1996.9 L1749.9,1994.4 L1751.5,1991.9 L1753.1,1989.3 L1754.7,1986.8 L1756.4,1984.3 L1758.0,1981.8 L1759.6,1979.2 L1761.2,1976.7 L1762.9,1974.2 L1764.5,1971.7 L1766.1,1969.1 L1767.8,1966.6 L1769.4,1964.1 L1771.0,1961.6 L1772.7,1959.1 L1774.3,1956.6 L1775.9,1954.0 L1777.6,1951.5 L1779.2,1949.0 L1780.8,1946.5 L1782.5,1944.0 L1784.1,1941.5 L1785.7,1939.0 L1787.4,1936.5 L1789.0,1934.0 L1790.7,1931.5 L1792.3,1928.9 L1793.9,1926.4 L1795.6,1923.9 L1797.2,1921.4 L1798.8,1918.9 L1800.5,1916.4 L1802.1,1913.9 L1803.7,1911.4 L1805.4,1908.9 L1807.0,1906.3 L1808.6,1903.8 L1810.2,1901.3 L1811.8,1898.8 L1813.5,1896.3 L1815.1,1893.8 L1816.7,1891.2 L1818.3,1888.7 L1819.9,1886.2 L1821.5,1883.7 L1823.1,1881.1 L1824.7,1878.6 L1826.3,1876.1 L1827.9,1873.5 L1829.5,1871.0 L1831.1,1868.5 L1832.6,1865.9 L1834.2,1863.4 L1835.8,1860.8 L1837.3,1858.3 L1838.9,1855.7 L1840.5,1853.2 L1842.0,1850.6 L1843.6,1848.1 L1845.1,1845.5 L1846.6,1842.9 L1848.2,1840.4 L1849.7,1837.8 L1851.2,1835.2 L1852.7,1832.7 L1854.2,1830.1 L1855.7,1827.5 L1857.2,1824.9 L1858.7,1822.3 L1860.2,1819.7 L1861.7,1817.1 L1863.2,1814.5 L1864.6,1811.9 L1866.1,1809.3 L1867.5,1806.7 L1869.0,1804.1 L1870.4,1801.4 L1871.8,1798.8 L1873.2,1796.2 L1874.7,1793.5 L1876.1,1790.9 L1877.4,1788.2 L1878.8,1785.6 L1880.2,1782.9 L1881.6,1780.2 L1882.9,1777.6 L1884.3,1774.9 L1885.6,1772.2 L1887.0,1769.5 L1888.3,1766.8 L1889.6,1764.1 L1890.9,1761.4 L1892.2,1758.7 L1893.5,1756.0 L1894.8,1753.3 L1896.0,1750.5 L1897.3,1747.8 L1898.5,1745.1 L1899.8,1742.3 L1901.0,1739.6 L1902.2,1736.8 L1903.4,1734.0 L1904.6,1731.3 L1905.8,1728.5 L1906.9,1725.7 L1908.1,1722.9 L1909.2,1720.1 L1910.4,1717.3 L1911.5,1714.5 L1912.6,1711.6 L1913.7,1708.8" stroke="#ff0000"/>
</g>
<rect x="307.7" y="1585" width="1604.6" height="1189.0" fill="none" stroke="#000" stroke-width="8.2"/>
<path d="M508.3,2774 V2748 M708.8,2774 V2748 M909.4,2774 V2748 M1110.0,2774 V2748 M1310.6,2774 V2748 M1511.1,2774 V2748 M1711.7,2774 V2748 M307.7,2476.8 H333.7 M307.7,2179.5 H333.7 M307.7,1882.2 H333.7" stroke="#000" stroke-width="8" fill="none"/>
<text transform="translate(307.7,2854.0) scale(0.973,1)" text-anchor="middle" font-size="69" >0.00</text>
<text transform="translate(508.3,2854.0) scale(0.973,1)" text-anchor="middle" font-size="69" >0.05</text>
<text transform="translate(708.8,2854.0) scale(0.973,1)" text-anchor="middle" font-size="69" >0.10</text>
<text transform="translate(909.4,2854.0) scale(0.973,1)" text-anchor="middle" font-size="69" >0.15</text>
<text transform="translate(1110.0,2854.0) scale(0.973,1)" text-anchor="middle" font-size="69" >0.20</text>
<text transform="translate(1310.6,2854.0) scale(0.973,1)" text-anchor="middle" font-size="69" >0.25</text>
<text transform="translate(1511.1,2854.0) scale(0.973,1)" text-anchor="middle" font-size="69" >0.30</text>
<text transform="translate(1711.7,2854.0) scale(0.973,1)" text-anchor="middle" font-size="69" >0.35</text>
<text transform="translate(1912.3,2854.0) scale(0.973,1)" text-anchor="middle" font-size="69" >0.40</text>
<text transform="translate(278.5,2795.0) scale(0.973,1)" text-anchor="end" font-size="69" >0</text>
<text transform="translate(278.5,2497.8) scale(0.973,1)" text-anchor="end" font-size="69" >10</text>
<text transform="translate(278.5,2200.5) scale(0.973,1)" text-anchor="end" font-size="69" >20</text>
<text transform="translate(278.5,1903.2) scale(0.973,1)" text-anchor="end" font-size="69" >30</text>
<text transform="translate(278.5,1606.0) scale(0.973,1)" text-anchor="end" font-size="69" >40</text>
<text transform="translate(114.6,2179.5) rotate(-90) scale(1,0.973)" text-anchor="middle" font-size="69">Degree of strain concentration</text>
<text transform="translate(1109.5,2965.0) scale(0.973,1)" text-anchor="middle" font-size="69" >Engineering strain</text>
<path d="M1360,1682.5 H1490.5" stroke="#ff0000" stroke-width="8" fill="none"/>
<path d="M1360,1767.5 H1468.5" stroke="#000" stroke-width="8" stroke-dasharray="24 16.8" fill="none"/>
<text transform="translate(1503.0,1703.5) scale(0.973,1)" text-anchor="start" font-size="69" >ANPG</text>
<text transform="translate(1506.0,1788.0) scale(0.973,1)" text-anchor="start" font-size="69" >INPG</text>
</svg>
</body></html>
